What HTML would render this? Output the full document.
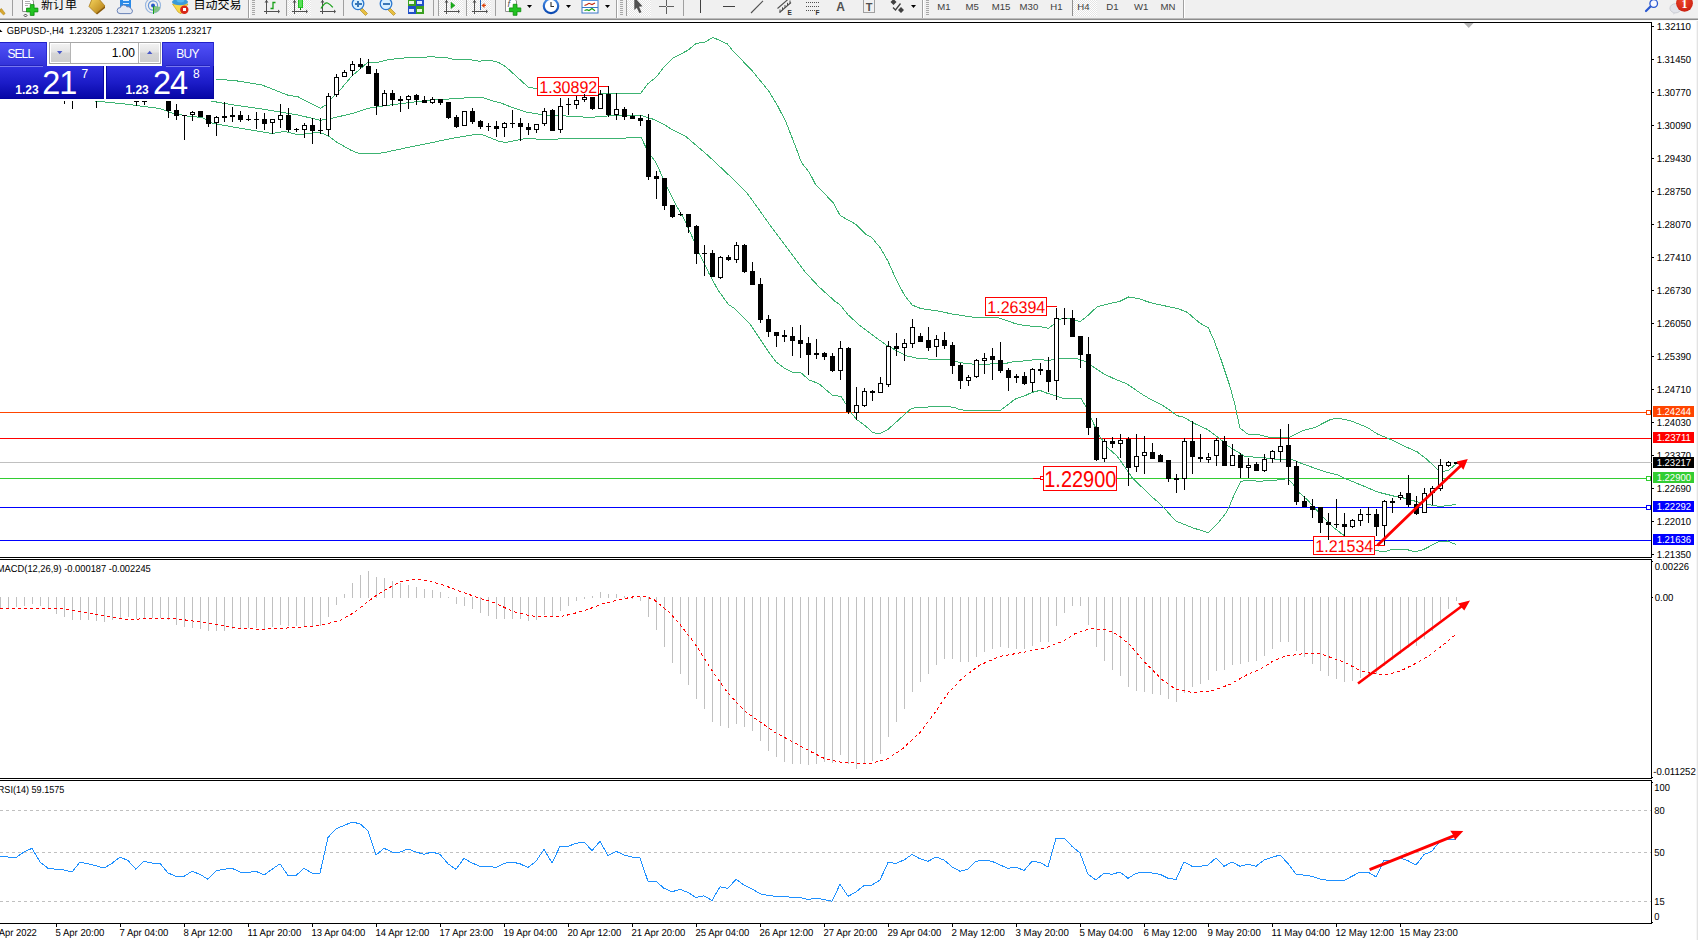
<!DOCTYPE html>
<html><head><meta charset="utf-8"><title>GBPUSD H4</title><style>html,body{margin:0;padding:0;background:#fff;overflow:hidden}svg{display:block}</style></head><body>
<svg width="1698" height="940" viewBox="0 0 1698 940">
<defs>
<linearGradient id="gSell" x1="0" y1="0" x2="0" y2="1"><stop offset="0" stop-color="#5252fa"/><stop offset="1" stop-color="#3232d8"/></linearGradient>
<linearGradient id="gPrice" x1="0" y1="0" x2="0" y2="1"><stop offset="0" stop-color="#3030e0"/><stop offset="0.5" stop-color="#1c1cc8"/><stop offset="1" stop-color="#0606a4"/></linearGradient>
<linearGradient id="gBtn" x1="0" y1="0" x2="0" y2="1"><stop offset="0" stop-color="#f2f2f2"/><stop offset="0.45" stop-color="#e4e4e4"/><stop offset="0.5" stop-color="#d6d6d6"/><stop offset="1" stop-color="#cfcfcf"/></linearGradient>
<radialGradient id="gBadge" cx="0.45" cy="0.35" r="0.7"><stop offset="0" stop-color="#f0482c"/><stop offset="1" stop-color="#c81e10"/></radialGradient>
<linearGradient id="gGold" x1="0" y1="0" x2="1" y2="1"><stop offset="0" stop-color="#f8d860"/><stop offset="1" stop-color="#b07810"/></linearGradient>
<linearGradient id="gClock" x1="0" y1="0" x2="0" y2="1"><stop offset="0" stop-color="#4a90e8"/><stop offset="1" stop-color="#0a48b0"/></linearGradient>
<pattern id="chk" width="2" height="2" patternUnits="userSpaceOnUse"><rect width="2" height="2" fill="#ffffff"/><rect width="1" height="1" fill="#e4e4e4"/><rect x="1" y="1" width="1" height="1" fill="#e4e4e4"/></pattern>
<clipPath id="cMain"><rect x="0" y="23" width="1651" height="534"/></clipPath>
<clipPath id="cMacd"><rect x="0" y="560" width="1651" height="218"/></clipPath>
<clipPath id="cRsi"><rect x="0" y="781" width="1651" height="142"/></clipPath>
<clipPath id="cTb"><rect x="0" y="0" width="1698" height="18"/></clipPath>
</defs>
<rect x="0" y="0" width="1698" height="940" fill="#ffffff"/>
<rect x="0" y="0" width="1698" height="18" fill="#f0f0f0"/>
<rect x="0" y="18" width="1698" height="1" fill="#bcbcbc"/>
<rect x="0" y="19" width="1698" height="1" fill="#8c8c8c"/>
<rect x="0" y="20" width="1698" height="1" fill="#fafafa"/>
<g clip-path="url(#cTb)">
<path d="M0,9.5 L1.5,8.5 L5.2,13.5 L3.5,15 L0,11.5 Z" fill="#d8a830" stroke="#a88018" stroke-width="0.5"/>
<rect x="12" y="0" width="1" height="16" fill="#a0a0a0"/>
<path d="M22.5,-2 h8 l3,3 v10.5 h-11 z" fill="#ffffff" stroke="#909090" stroke-width="1"/>
<rect x="25" y="1" width="5" height="1" fill="#b0b0b0"/>
<rect x="25" y="3" width="6" height="1" fill="#b0b0b0"/>
<rect x="25" y="5" width="3" height="1" fill="#b0b0b0"/>
<path d="M30.3,4.6 h3.8 v3.5 h3.8 v3.8 h-3.8 v3.5 h-3.8 v-3.5 h-3.8 v-3.8 h3.8 z" fill="#22c322" stroke="#0a8a0a" stroke-width="0.8"/>
<path d="M25.5,14 l1.5,1.5 l-1.5,1.5 l-1.5,-1.5 z" fill="none" stroke="#000" stroke-width="0.7"/>
<text x="41" y="9" font-family="'Liberation Sans','Noto Sans CJK SC',sans-serif" font-size="12" fill="#000" text-anchor="start" font-weight="normal">新订单</text>
<path d="M92,-1 L98,-2 L105,6 L96,13.5 L89,6.5 Z" fill="url(#gGold)" stroke="#a87818" stroke-width="0.8"/>
<path d="M96,13.5 L105,6 L105,8 L97,14.5 Z" fill="#8a5a08"/>
<rect x="120" y="-2" width="11" height="10" fill="#2a8ae8"/>
<rect x="123" y="0" width="6" height="1" fill="#d8ecff"/>
<rect x="123" y="3" width="6" height="1" fill="#d8ecff"/>
<path d="M120,13.6 a3,3 0 0 1 0.3,-6 a3.6,3.6 0 0 1 6.6,-0.8 a3,3 0 0 1 3.8,1.8 a2.6,2.6 0 0 1 -0.3,5 z" fill="#e4e9f2" stroke="#5a76b0" stroke-width="0.9"/>
<circle cx="153" cy="5.5" r="7.5" fill="none" stroke="#9ab8e0" stroke-width="1.2"/>
<circle cx="153" cy="5.5" r="4.6" fill="none" stroke="#6a98d8" stroke-width="1.2"/>
<path d="M153,5.5 L160.3,7 A7.5,7.5 0 0 1 153,13 Z" fill="#7ac07a" opacity="0.9"/>
<circle cx="153" cy="5.5" r="2" fill="#2858c8"/>
<rect x="153" y="6" width="1" height="8" fill="#18a018"/>
<path d="M172.5,4 L188,4 L181,13.8 L178,12 Z" fill="#f8d848" stroke="#c8a020" stroke-width="0.7"/>
<ellipse cx="180" cy="2" rx="8" ry="3.2" fill="#3a9ad8"/>
<ellipse cx="180.5" cy="-0.5" rx="4" ry="3" fill="#58b8f0"/>
<circle cx="184.3" cy="9.7" r="4.2" fill="#d82818"/>
<rect x="183" y="8" width="3" height="3" fill="#ffffff"/>
<text x="193.5" y="9" font-family="'Liberation Sans','Noto Sans CJK SC',sans-serif" font-size="12" fill="#000" text-anchor="start" font-weight="normal">自动交易</text>
<rect x="248" y="0" width="1" height="18" fill="#a0a0a0"/>
<rect x="249" y="0" width="1" height="18" fill="#ffffff"/>
<rect x="252" y="0" width="3" height="1" fill="#a8a8a8"/>
<rect x="252" y="2" width="3" height="1" fill="#a8a8a8"/>
<rect x="252" y="4" width="3" height="1" fill="#a8a8a8"/>
<rect x="252" y="6" width="3" height="1" fill="#a8a8a8"/>
<rect x="252" y="8" width="3" height="1" fill="#a8a8a8"/>
<rect x="252" y="10" width="3" height="1" fill="#a8a8a8"/>
<rect x="252" y="12" width="3" height="1" fill="#a8a8a8"/>
<rect x="252" y="14" width="3" height="1" fill="#a8a8a8"/>
<g shape-rendering="crispEdges" fill="#505050">
<rect x="266" y="0" width="1" height="14" fill="#505050"/>
<rect x="264" y="11" width="14" height="1" fill="#505050"/>
</g>
<path d="M278,9.5 l2,2 l-2,2 z" fill="#505050"/>
<path d="M264.5,2.5 l2,-2.5 l2,2.5 z" fill="#505050"/>
<path d="M270.5,8.5 h2.5 v-6 h2.5" fill="none" stroke="#18a018" stroke-width="1.3"/>
<rect x="286" y="0" width="1" height="16" fill="#a0a0a0"/>
<rect x="288" y="0" width="23" height="16" fill="url(#chk)"/>
<g shape-rendering="crispEdges" fill="#505050">
<rect x="294" y="0" width="1" height="14" fill="#505050"/>
<rect x="292" y="11" width="14" height="1" fill="#505050"/>
</g>
<path d="M306,9.5 l2,2 l-2,2 z" fill="#505050"/>
<path d="M292.5,2.5 l2,-2.5 l2,2.5 z" fill="#505050"/>
<rect x="298" y="-1" width="5" height="9" fill="#22c322"/>
<rect x="299" y="0" width="3" height="7" fill="#58e058"/>
<rect x="300" y="8" width="1" height="2" fill="#0a8a0a"/>
<g shape-rendering="crispEdges" fill="#505050">
<rect x="322" y="0" width="1" height="14" fill="#505050"/>
<rect x="320" y="11" width="14" height="1" fill="#505050"/>
</g>
<path d="M334,9.5 l2,2 l-2,2 z" fill="#505050"/>
<path d="M320.5,2.5 l2,-2.5 l2,2.5 z" fill="#505050"/>
<path d="M321,8.5 Q325,2 327.5,3 T332.8,7.3" fill="none" stroke="#18a018" stroke-width="1.3"/>
<rect x="343" y="0" width="1" height="16" fill="#a0a0a0"/>
<path d="M361.5,7.5 l6,6 l-2,2 l-6,-6 z" fill="#e8c040" stroke="#a88018" stroke-width="0.6"/>
<circle cx="358" cy="3.8" r="5.8" fill="#d8f0ff" stroke="#2a78d0" stroke-width="1.3"/>
<rect x="355" y="3" width="7" height="2" fill="#3a78b8"/>
<rect x="357" y="1" width="2" height="6" fill="#3a78b8"/>
<path d="M389.5,7.5 l6,6 l-2,2 l-6,-6 z" fill="#e8c040" stroke="#a88018" stroke-width="0.6"/>
<circle cx="386" cy="3.8" r="5.8" fill="#d8f0ff" stroke="#2a78d0" stroke-width="1.3"/>
<rect x="383" y="3" width="7" height="2" fill="#3a78b8"/>
<rect x="408" y="-1" width="8" height="7" fill="#3aa020"/>
<rect x="416" y="-1" width="8" height="7" fill="#2050c8"/>
<rect x="408" y="6" width="8" height="8" fill="#2050c8"/>
<rect x="416" y="6" width="8" height="8" fill="#3aa020"/>
<rect x="409" y="1" width="5" height="3" fill="#e8f8e0"/>
<rect x="417" y="1" width="5" height="3" fill="#e0e8ff"/>
<rect x="409" y="9" width="5" height="3" fill="#e0e8ff"/>
<rect x="417" y="9" width="5" height="3" fill="#e8f8e0"/>
<rect x="433" y="0" width="1" height="16" fill="#a0a0a0"/>
<rect x="438" y="0" width="1" height="16" fill="#a0a0a0"/>
<rect x="439" y="0" width="24" height="16" fill="url(#chk)"/>
<g shape-rendering="crispEdges" fill="#505050">
<rect x="446" y="0" width="1" height="14" fill="#505050"/>
<rect x="444" y="11" width="14" height="1" fill="#505050"/>
</g>
<path d="M458,9.5 l2,2 l-2,2 z" fill="#505050"/>
<path d="M444.5,2.5 l2,-2.5 l2,2.5 z" fill="#505050"/>
<path d="M451,2.3 l4,3.1 l-4,3.1 z" fill="#18b018" stroke="#0a8a0a" stroke-width="0.5"/>
<rect x="466" y="0" width="1" height="16" fill="#a0a0a0"/>
<rect x="467" y="0" width="24" height="16" fill="url(#chk)"/>
<g shape-rendering="crispEdges" fill="#505050">
<rect x="474" y="0" width="1" height="14" fill="#505050"/>
<rect x="472" y="11" width="14" height="1" fill="#505050"/>
</g>
<path d="M486,9.5 l2,2 l-2,2 z" fill="#505050"/>
<path d="M472.5,2.5 l2,-2.5 l2,2.5 z" fill="#505050"/>
<rect x="480" y="0" width="1" height="10" fill="#2060b0"/>
<path d="M481.5,5.4 l3,-2.5 v1.8 h1.5 v1.4 h-1.5 v1.8 z" fill="#e04810"/>
<rect x="495" y="0" width="1" height="16" fill="#a0a0a0"/>
<path d="M505.5,-2 h8 l3,3 v10.5 h-11 z" fill="#ffffff" stroke="#909090" stroke-width="1"/>
<text x="507.5" y="7" font-family="'Liberation Sans',sans-serif" font-size="9" fill="#505050" text-anchor="start" font-weight="normal" font-style="italic">f</text>
<path d="M513.2,4.3 h3.8 v3.6 h3.8 v3.8 h-3.8 v3.6 h-3.8 v-3.6 h-3.8 v-3.8 h3.8 z" fill="#22c322" stroke="#0a8a0a" stroke-width="0.8"/>
<path d="M527,5 h5 l-2.5,3 z" fill="#000"/>
<circle cx="551" cy="6" r="7.2" fill="#ffffff" stroke="url(#gClock)" stroke-width="2.2"/>
<path d="M551,2 v4.5 h3" fill="none" stroke="#303030" stroke-width="1.1"/>
<path d="M566,5 h5 l-2.5,3 z" fill="#000"/>
<rect x="582" y="-2" width="16" height="15" fill="#ffffff" stroke="#3a78c8" stroke-width="1"/>
<rect x="582" y="-2" width="16" height="3" fill="#5a98e0"/>
<path d="M584.5,5.5 l2.5,-1 l2,-1.2 l3,1.2 l3,-1.5" fill="none" stroke="#c02810" stroke-width="1.2"/>
<rect x="582" y="7" width="16" height="1" fill="#3a78c8"/>
<path d="M584.5,10.5 l2.5,-0.8 l2,0.8 l3,-2 l3,2.2" fill="none" stroke="#18a018" stroke-width="1.2"/>
<path d="M605,5 h5 l-2.5,3 z" fill="#000"/>
<rect x="616" y="0" width="1" height="18" fill="#a0a0a0"/>
<rect x="617" y="0" width="1" height="18" fill="#ffffff"/>
<rect x="620" y="0" width="3" height="1" fill="#a8a8a8"/>
<rect x="620" y="2" width="3" height="1" fill="#a8a8a8"/>
<rect x="620" y="4" width="3" height="1" fill="#a8a8a8"/>
<rect x="620" y="6" width="3" height="1" fill="#a8a8a8"/>
<rect x="620" y="8" width="3" height="1" fill="#a8a8a8"/>
<rect x="620" y="10" width="3" height="1" fill="#a8a8a8"/>
<rect x="620" y="12" width="3" height="1" fill="#a8a8a8"/>
<rect x="620" y="14" width="3" height="1" fill="#a8a8a8"/>
<rect x="626" y="0" width="1" height="16" fill="#a0a0a0"/>
<rect x="627" y="0" width="24" height="16" fill="url(#chk)"/>
<path d="M634.3,-3 L642.5,6.3 L639,6.8 L641.5,12.3 L639.3,13 L636.8,7.8 L634.3,10 Z" fill="#505050"/>
<rect x="659" y="6" width="15" height="1" fill="#606060"/>
<rect x="666" y="0" width="1" height="14" fill="#606060"/>
<rect x="666" y="6" width="1" height="1" fill="#f0f0f0"/>
<rect x="683" y="0" width="1" height="16" fill="#a0a0a0"/>
<rect x="700" y="0" width="1" height="13" fill="#404040"/>
<rect x="723" y="6" width="12" height="1" fill="#404040"/>
<path d="M751,13 L763,0.8" stroke="#505050" stroke-width="1.1" fill="none"/>
<path d="M777.5,8.5 L789,-1.5 M779.5,12.5 L791,2.5" stroke="#505050" stroke-width="1.1" fill="none"/>
<path d="M780,9.5 v3 M782.5,7.3 v3 M785,5 v3 M787.5,2.8 v3 M790,0.5 v3" stroke="#505050" stroke-width="1" fill="none"/>
<text x="787.5" y="14.5" font-family="'Liberation Sans',sans-serif" font-size="6.5" fill="#303030" text-anchor="start" font-weight="bold">E</text>
<rect x="806" y="2" width="1" height="1" fill="#505050"/>
<rect x="808" y="2" width="1" height="1" fill="#505050"/>
<rect x="810" y="2" width="1" height="1" fill="#505050"/>
<rect x="812" y="2" width="1" height="1" fill="#505050"/>
<rect x="814" y="2" width="1" height="1" fill="#505050"/>
<rect x="816" y="2" width="1" height="1" fill="#505050"/>
<rect x="818" y="2" width="1" height="1" fill="#505050"/>
<rect x="806" y="6" width="1" height="1" fill="#505050"/>
<rect x="808" y="6" width="1" height="1" fill="#505050"/>
<rect x="810" y="6" width="1" height="1" fill="#505050"/>
<rect x="812" y="6" width="1" height="1" fill="#505050"/>
<rect x="814" y="6" width="1" height="1" fill="#505050"/>
<rect x="816" y="6" width="1" height="1" fill="#505050"/>
<rect x="818" y="6" width="1" height="1" fill="#505050"/>
<rect x="806" y="10" width="1" height="1" fill="#505050"/>
<rect x="808" y="10" width="1" height="1" fill="#505050"/>
<rect x="810" y="10" width="1" height="1" fill="#505050"/>
<rect x="812" y="10" width="1" height="1" fill="#505050"/>
<rect x="814" y="10" width="1" height="1" fill="#505050"/>
<text x="815.5" y="14.5" font-family="'Liberation Sans',sans-serif" font-size="6.5" fill="#303030" text-anchor="start" font-weight="bold">F</text>
<text x="836.3" y="10.7" font-family="'Liberation Sans',sans-serif" font-size="12" fill="#505050" text-anchor="start" font-weight="bold">A</text>
<rect x="863.5" y="-0.5" width="11" height="13" fill="none" stroke="#505050" stroke-width="1" stroke-dasharray="1,1"/>
<text x="869" y="10.7" font-family="'Liberation Sans',sans-serif" font-size="11" fill="#505050" text-anchor="middle" font-weight="bold">T</text>
<path d="M893.5,-1 l3,3 l-3,3 l-3,-3 z M901,7 l3,3 l-3,3 l-3,-3 z" fill="#404040"/>
<path d="M893,7.5 l2.5,2.5 l5,-6.5" fill="none" stroke="#404040" stroke-width="1.3"/>
<path d="M911,5 h5 l-2.5,3 z" fill="#000"/>
<rect x="922" y="0" width="1" height="18" fill="#a0a0a0"/>
<rect x="923" y="0" width="1" height="18" fill="#ffffff"/>
<rect x="926" y="0" width="3" height="1" fill="#a8a8a8"/>
<rect x="926" y="2" width="3" height="1" fill="#a8a8a8"/>
<rect x="926" y="4" width="3" height="1" fill="#a8a8a8"/>
<rect x="926" y="6" width="3" height="1" fill="#a8a8a8"/>
<rect x="926" y="8" width="3" height="1" fill="#a8a8a8"/>
<rect x="926" y="10" width="3" height="1" fill="#a8a8a8"/>
<rect x="926" y="12" width="3" height="1" fill="#a8a8a8"/>
<rect x="926" y="14" width="3" height="1" fill="#a8a8a8"/>
<text x="937.3" y="9.8" font-family="'Liberation Sans',sans-serif" font-size="9.6" fill="#404040" text-anchor="start" font-weight="normal">M1</text>
<text x="965.6" y="9.8" font-family="'Liberation Sans',sans-serif" font-size="9.6" fill="#404040" text-anchor="start" font-weight="normal">M5</text>
<text x="991.7" y="9.8" font-family="'Liberation Sans',sans-serif" font-size="9.6" fill="#404040" text-anchor="start" font-weight="normal">M15</text>
<text x="1019.6" y="9.8" font-family="'Liberation Sans',sans-serif" font-size="9.6" fill="#404040" text-anchor="start" font-weight="normal">M30</text>
<text x="1050.3" y="9.8" font-family="'Liberation Sans',sans-serif" font-size="9.6" fill="#404040" text-anchor="start" font-weight="normal">H1</text>
<text x="1106.3" y="9.8" font-family="'Liberation Sans',sans-serif" font-size="9.6" fill="#404040" text-anchor="start" font-weight="normal">D1</text>
<text x="1134" y="9.8" font-family="'Liberation Sans',sans-serif" font-size="9.6" fill="#404040" text-anchor="start" font-weight="normal">W1</text>
<text x="1160.5" y="9.8" font-family="'Liberation Sans',sans-serif" font-size="9.6" fill="#404040" text-anchor="start" font-weight="normal">MN</text>
<rect x="1072" y="0" width="1" height="16" fill="#909090"/>
<rect x="1073" y="0" width="24" height="16" fill="url(#chk)"/>
<text x="1077.3" y="9.8" font-family="'Liberation Sans',sans-serif" font-size="9.6" fill="#404040" text-anchor="start" font-weight="normal">H4</text>
<rect x="1183" y="0" width="1" height="18" fill="#a0a0a0"/>
<rect x="1184" y="0" width="1" height="18" fill="#ffffff"/>
<path d="M1650.5,6.5 L1646,11" stroke="#2a58d0" stroke-width="2.2" stroke-linecap="round"/>
<circle cx="1653.7" cy="3.5" r="3.8" fill="#f8f8ff" stroke="#2a58d0" stroke-width="1.3"/>
<ellipse cx="1675.5" cy="8.3" rx="5.6" ry="4.6" fill="#e2e4ea" stroke="#b8bcc4" stroke-width="0.6"/>
<path d="M1673,12 l0.5,2.7 l2.5,-2.4 z" fill="#d4d6dc"/>
<circle cx="1684.5" cy="3.3" r="8.4" fill="url(#gBadge)"/>
<text x="1684.4" y="7.8" font-family="'Liberation Serif',serif" font-size="12" fill="#ffffff" text-anchor="middle" font-weight="bold">1</text>
</g>
<g shape-rendering="crispEdges">
<rect x="0" y="22" width="1652" height="1" fill="#000"/>
<rect x="1651" y="22" width="1" height="902" fill="#000"/>
<rect x="0" y="557" width="1652" height="1" fill="#000"/>
<rect x="1651" y="558" width="1" height="1" fill="#fff"/>
<rect x="0" y="559" width="1652" height="1" fill="#000"/>
<rect x="0" y="778" width="1652" height="1" fill="#000"/>
<rect x="1651" y="779" width="1" height="1" fill="#fff"/>
<rect x="0" y="780" width="1652" height="1" fill="#000"/>
<rect x="0" y="923" width="1652" height="1" fill="#000"/>
<rect x="1697" y="21" width="1" height="919" fill="#e3e3e3"/>
<rect x="1696" y="21" width="1" height="919" fill="#f6f6f6"/>
</g>
<g clip-path="url(#cMain)">
<g shape-rendering="crispEdges">
<rect x="0" y="412" width="1651" height="1" fill="#ff4500"/>
<rect x="0" y="438" width="1651" height="1" fill="#ff0000"/>
<rect x="0" y="462" width="1651" height="1" fill="#c0c0c0"/>
<rect x="0" y="478" width="1651" height="1" fill="#32cd32"/>
<rect x="0" y="507" width="1651" height="1" fill="#0000ff"/>
<rect x="0" y="540" width="1651" height="1" fill="#0000ff"/>
<rect x="1646" y="410" width="5" height="5" fill="#ff4500"/>
<rect x="1647" y="411" width="3" height="3" fill="#ffffff"/>
<rect x="1646" y="476" width="5" height="5" fill="#32cd32"/>
<rect x="1647" y="477" width="3" height="3" fill="#ffffff"/>
<rect x="1646" y="505" width="5" height="5" fill="#0000ff"/>
<rect x="1647" y="506" width="3" height="3" fill="#ffffff"/>
<polyline points="150.0,70.0 214.0,79.0 235.0,80.6 262.0,85.0 288.0,95.2 298.0,96.8 320.5,108.3 326.0,104.8 330.0,100.0 340.6,89.4 351.3,76.6 367.2,62.8 377.9,62.2 388.5,59.6 404.5,58.0 429.0,56.9 444.9,57.2 453.4,59.4 468.3,59.4 478.9,61.2 489.6,60.1 498.0,62.2 505.3,66.4 516.0,76.0 528.2,87.1 537.2,88.7 560.0,91.0 580.0,93.0 603.7,93.8 640.4,93.5 647.4,84.2 657.0,76.3 663.4,67.7 673.0,58.2 687.9,50.2 696.4,43.3 704.9,42.2 712.9,37.4 727.2,43.8 733.6,51.8 741.0,59.2 752.8,71.5 768.7,91.1 777.2,105.0 785.7,121.5 795.0,145.1 801.3,162.1 809.8,173.3 815.3,184.0 833.5,203.1 840.2,215.6 855.6,224.2 865.1,233.8 871.8,237.6 880.5,248.1 888.1,261.5 895.8,278.8 904.4,295.1 912.1,305.0 920.7,308.5 937.9,311.0 953.3,314.2 972.4,317.1 997.0,317.5 1001.0,318.6 1015.0,323.5 1020.0,324.7 1030.0,326.0 1045.0,327.3 1048.3,328.6 1053.6,324.3 1058.0,319.5 1065.0,318.2 1072.0,319.0 1080.2,321.7 1087.7,315.7 1097.0,306.9 1108.9,303.8 1120.0,301.3 1128.5,297.0 1137.8,298.4 1151.5,303.0 1165.0,305.9 1178.7,308.9 1187.2,312.3 1199.1,322.5 1208.4,328.0 1214.4,341.2 1221.2,360.0 1229.7,385.5 1234.8,404.2 1239.9,428.0 1247.6,434.0 1259.8,434.9 1269.8,437.4 1277.2,437.4 1290.0,437.1 1303.8,430.2 1314.5,427.6 1330.4,419.6 1337.9,418.0 1351.7,421.2 1367.7,427.6 1377.2,433.9 1389.0,438.7 1402.8,445.5 1417.2,451.9 1425.7,458.3 1432.6,464.7 1438.0,469.8 1442.8,471.5 1448.7,470.2 1455.5,464.3 1457.0,463.0" fill="none" stroke="#3cb371" stroke-width="1"/>
<polyline points="150.0,90.0 190.0,96.5 213.0,101.4 236.0,105.3 266.0,109.6 298.0,115.0 320.0,120.2 325.0,119.7 330.0,118.6 351.3,113.8 367.2,108.5 383.2,105.9 404.5,103.2 425.7,100.5 436.4,99.5 452.3,98.9 468.3,97.7 482.0,97.3 494.9,101.6 500.0,102.6 510.6,106.8 526.6,112.1 542.6,114.8 563.8,115.9 590.4,117.4 608.5,115.9 622.3,115.9 640.4,115.3 654.5,119.6 665.0,124.9 670.4,128.6 685.3,136.0 699.0,147.8 707.7,155.2 723.6,170.1 736.4,182.3 747.0,193.0 756.4,206.0 772.3,228.3 788.3,249.6 804.3,271.0 819.1,287.0 835.1,301.4 840.4,305.1 847.9,314.7 859.6,325.3 872.3,334.9 886.2,345.0 896.4,350.6 907.0,356.0 917.7,358.3 933.6,359.4 949.4,359.8 960.0,362.6 971.7,364.0 984.5,364.7 995.0,363.3 1003.6,363.8 1016.4,361.2 1027.0,360.9 1037.7,359.0 1047.4,360.6 1059.1,358.5 1076.2,358.3 1085.7,361.7 1091.0,365.4 1103.8,373.9 1114.5,378.9 1127.2,384.0 1141.0,393.6 1151.7,400.0 1162.3,405.3 1171.9,411.7 1177.2,415.7 1183.6,417.2 1194.3,423.4 1207.7,429.6 1218.3,437.6 1229.0,446.6 1239.6,453.0 1245.0,456.7 1261.3,457.3 1277.2,459.5 1293.2,460.0 1303.8,464.3 1325.0,471.7 1337.9,474.9 1346.4,479.1 1362.3,485.5 1377.2,491.9 1394.3,496.2 1407.0,498.7 1415.5,501.3 1427.4,504.3 1437.7,506.2 1444.5,506.0 1451.3,505.1 1456.0,504.3" fill="none" stroke="#3cb371" stroke-width="1"/>
<polyline points="60.0,97.0 95.0,101.0 110.0,102.5 125.0,104.0 140.0,106.0 160.0,108.5 172.0,113.0 187.0,116.0 202.0,117.5 213.0,123.4 240.0,128.2 272.0,133.5 285.0,131.4 298.0,134.9 312.0,133.0 320.0,132.5 328.5,135.9 337.0,142.3 351.8,150.7 359.2,153.4 379.4,153.4 387.8,151.8 404.8,148.1 426.0,143.9 447.2,139.3 463.1,136.4 476.9,134.3 481.1,134.1 489.6,137.5 498.0,141.0 505.5,142.6 524.5,138.7 547.9,139.3 574.5,138.5 595.7,138.9 617.0,138.5 636.4,137.4 641.0,137.1 646.3,148.3 651.3,156.3 655.5,161.6 662.0,176.0 667.4,188.0 676.6,206.0 685.1,220.9 693.6,240.0 698.9,252.7 709.4,274.2 718.3,290.6 728.7,304.8 734.7,308.5 749.5,323.4 755.5,332.3 767.4,350.2 776.3,362.1 785.3,368.8 792.7,372.2 800.6,372.4 809.0,379.9 818.7,383.6 832.6,395.3 841.0,396.4 846.4,404.9 851.7,413.4 857.0,419.8 864.5,425.1 873.0,432.6 879.4,433.8 887.9,429.4 896.4,421.9 907.0,412.3 911.3,408.6 917.7,407.2 938.9,406.8 945.3,406.2 954.5,407.5 959.7,409.5 965.5,410.3 1000.5,410.3 1007.0,405.3 1014.8,399.4 1018.7,397.5 1023.2,396.5 1032.3,392.3 1040.0,390.4 1047.2,393.3 1053.6,395.2 1063.4,398.4 1081.0,398.4 1085.7,406.4 1091.0,418.1 1095.3,427.1 1099.6,436.2 1107.7,447.7 1117.2,456.2 1124.7,466.8 1132.0,477.4 1139.6,484.9 1150.0,495.2 1156.5,500.7 1163.6,507.5 1175.9,521.1 1192.1,527.6 1208.3,532.7 1218.0,523.0 1225.8,513.3 1229.7,505.5 1234.3,494.5 1240.6,481.7 1246.0,480.1 1259.0,481.3 1275.0,480.2 1287.9,478.6 1293.2,484.5 1299.6,493.0 1308.0,500.4 1314.5,507.9 1325.0,518.9 1334.7,528.5 1343.2,534.9 1355.0,542.0 1365.0,547.0 1375.0,550.3 1383.6,551.9 1391.0,549.8 1407.0,549.6 1415.5,551.9 1424.0,549.3 1439.0,541.5 1447.4,541.0 1456.0,544.5" fill="none" stroke="#3cb371" stroke-width="1"/>
</g>
<rect x="537.5" y="77.5" width="61" height="18" fill="#ffffff" stroke="#ff0000" stroke-width="1" shape-rendering="crispEdges"/>
<text x="539.3" y="92.7" font-family="'Liberation Sans',sans-serif" font-size="17" fill="#ff0000" text-anchor="start" font-weight="normal" textLength="58" lengthAdjust="spacingAndGlyphs" text-rendering="geometricPrecision">1.30892</text>
<rect x="599" y="86" width="10" height="1" fill="#ff0000" shape-rendering="crispEdges"/>
<rect x="985.5" y="297.5" width="61" height="18" fill="#ffffff" stroke="#ff0000" stroke-width="1" shape-rendering="crispEdges"/>
<text x="987.3" y="312.9" font-family="'Liberation Sans',sans-serif" font-size="17" fill="#ff0000" text-anchor="start" font-weight="normal" textLength="58" lengthAdjust="spacingAndGlyphs" text-rendering="geometricPrecision">1.26394</text>
<rect x="1047" y="306" width="10" height="1" fill="#ff0000" shape-rendering="crispEdges"/>
<rect x="1313.5" y="536.5" width="61" height="18" fill="#ffffff" stroke="#ff0000" stroke-width="1" shape-rendering="crispEdges"/>
<text x="1315.3" y="551.8" font-family="'Liberation Sans',sans-serif" font-size="17" fill="#ff0000" text-anchor="start" font-weight="normal" textLength="58" lengthAdjust="spacingAndGlyphs" text-rendering="geometricPrecision">1.21534</text>
<rect x="1375" y="545" width="10" height="1" fill="#ff0000" shape-rendering="crispEdges"/>
<rect x="1033" y="478" width="10" height="1" fill="#ff0000" shape-rendering="crispEdges"/>
<rect x="1040" y="476" width="4" height="4" fill="#ff0000" shape-rendering="crispEdges"/>
<rect x="1041" y="477" width="2" height="2" fill="#ffffff" shape-rendering="crispEdges"/>
<rect x="1043.5" y="466.5" width="73" height="24" fill="#ffffff" stroke="#ff0000" stroke-width="1" shape-rendering="crispEdges"/>
<text x="1044.3" y="486.9" font-family="'Liberation Sans',sans-serif" font-size="22.8" fill="#ff0000" text-anchor="start" font-weight="normal" textLength="72" lengthAdjust="spacingAndGlyphs" text-rendering="geometricPrecision">1.22900</text>
<g shape-rendering="crispEdges">
<rect x="64" y="90" width="1" height="14" fill="#000"/>
<rect x="72" y="90" width="1" height="19" fill="#000"/>
<rect x="96" y="90" width="1" height="18" fill="#000"/>
<rect x="136" y="90" width="1" height="16" fill="#000"/>
<rect x="134" y="90" width="5" height="12" fill="#000"/>
<rect x="135" y="91" width="3" height="10" fill="#fff"/>
<rect x="144" y="90" width="1" height="15" fill="#000"/>
<rect x="142" y="90" width="5" height="12" fill="#000"/>
<rect x="143" y="91" width="3" height="10" fill="#fff"/>
<rect x="168" y="90" width="1" height="28" fill="#000"/>
<rect x="166" y="90" width="5" height="21" fill="#000"/>
<rect x="176" y="104" width="1" height="16" fill="#000"/>
<rect x="174" y="110" width="5" height="6" fill="#000"/>
<rect x="184" y="115" width="1" height="25" fill="#000"/>
<rect x="182" y="115" width="5" height="1" fill="#000"/>
<rect x="192" y="111" width="1" height="10" fill="#000"/>
<rect x="190" y="112" width="5" height="3" fill="#000"/>
<rect x="191" y="113" width="3" height="1" fill="#fff"/>
<rect x="200" y="111" width="1" height="6" fill="#000"/>
<rect x="198" y="111" width="5" height="6" fill="#000"/>
<rect x="208" y="115" width="1" height="12" fill="#000"/>
<rect x="206" y="115" width="5" height="9" fill="#000"/>
<rect x="216" y="116" width="1" height="20" fill="#000"/>
<rect x="214" y="117" width="5" height="6" fill="#000"/>
<rect x="215" y="118" width="3" height="4" fill="#fff"/>
<rect x="224" y="102" width="1" height="20" fill="#000"/>
<rect x="222" y="116" width="5" height="2" fill="#000"/>
<rect x="232" y="107" width="1" height="15" fill="#000"/>
<rect x="230" y="115" width="5" height="2" fill="#000"/>
<rect x="240" y="111" width="1" height="11" fill="#000"/>
<rect x="238" y="115" width="5" height="5" fill="#000"/>
<rect x="248" y="115" width="1" height="6" fill="#000"/>
<rect x="246" y="119" width="5" height="1" fill="#000"/>
<rect x="256" y="112" width="1" height="17" fill="#000"/>
<rect x="254" y="119" width="5" height="1" fill="#000"/>
<rect x="264" y="113" width="1" height="17" fill="#000"/>
<rect x="262" y="119" width="5" height="5" fill="#000"/>
<rect x="272" y="119" width="1" height="15" fill="#000"/>
<rect x="270" y="119" width="5" height="4" fill="#000"/>
<rect x="271" y="120" width="3" height="2" fill="#fff"/>
<rect x="280" y="104" width="1" height="24" fill="#000"/>
<rect x="278" y="115" width="5" height="5" fill="#000"/>
<rect x="279" y="116" width="3" height="3" fill="#fff"/>
<rect x="288" y="108" width="1" height="24" fill="#000"/>
<rect x="286" y="115" width="5" height="15" fill="#000"/>
<rect x="296" y="128" width="1" height="4" fill="#000"/>
<rect x="294" y="129" width="5" height="1" fill="#000"/>
<rect x="304" y="123" width="1" height="15" fill="#000"/>
<rect x="302" y="125" width="5" height="5" fill="#000"/>
<rect x="303" y="126" width="3" height="3" fill="#fff"/>
<rect x="312" y="118" width="1" height="26" fill="#000"/>
<rect x="310" y="125" width="5" height="6" fill="#000"/>
<rect x="320" y="118" width="1" height="16" fill="#000"/>
<rect x="318" y="130" width="5" height="1" fill="#000"/>
<rect x="328" y="93" width="1" height="43" fill="#000"/>
<rect x="326" y="96" width="5" height="34" fill="#000"/>
<rect x="327" y="97" width="3" height="32" fill="#fff"/>
<rect x="336" y="74" width="1" height="23" fill="#000"/>
<rect x="334" y="77" width="5" height="18" fill="#000"/>
<rect x="335" y="78" width="3" height="16" fill="#fff"/>
<rect x="344" y="70" width="1" height="7" fill="#000"/>
<rect x="342" y="72" width="5" height="5" fill="#000"/>
<rect x="343" y="73" width="3" height="3" fill="#fff"/>
<rect x="352" y="61" width="1" height="15" fill="#000"/>
<rect x="350" y="64" width="5" height="7" fill="#000"/>
<rect x="351" y="65" width="3" height="5" fill="#fff"/>
<rect x="360" y="58" width="1" height="11" fill="#000"/>
<rect x="358" y="64" width="5" height="3" fill="#000"/>
<rect x="368" y="59" width="1" height="15" fill="#000"/>
<rect x="366" y="66" width="5" height="8" fill="#000"/>
<rect x="376" y="69" width="1" height="46" fill="#000"/>
<rect x="374" y="73" width="5" height="33" fill="#000"/>
<rect x="384" y="90" width="1" height="16" fill="#000"/>
<rect x="382" y="93" width="5" height="13" fill="#000"/>
<rect x="383" y="94" width="3" height="11" fill="#fff"/>
<rect x="392" y="90" width="1" height="16" fill="#000"/>
<rect x="390" y="93" width="5" height="7" fill="#000"/>
<rect x="400" y="96" width="1" height="16" fill="#000"/>
<rect x="398" y="99" width="5" height="2" fill="#000"/>
<rect x="408" y="95" width="1" height="14" fill="#000"/>
<rect x="406" y="96" width="5" height="4" fill="#000"/>
<rect x="407" y="97" width="3" height="2" fill="#fff"/>
<rect x="416" y="94" width="1" height="11" fill="#000"/>
<rect x="414" y="95" width="5" height="5" fill="#000"/>
<rect x="424" y="96" width="1" height="7" fill="#000"/>
<rect x="422" y="100" width="5" height="3" fill="#000"/>
<rect x="432" y="97" width="1" height="7" fill="#000"/>
<rect x="430" y="99" width="5" height="4" fill="#000"/>
<rect x="431" y="100" width="3" height="2" fill="#fff"/>
<rect x="440" y="99" width="1" height="6" fill="#000"/>
<rect x="438" y="99" width="5" height="4" fill="#000"/>
<rect x="448" y="102" width="1" height="17" fill="#000"/>
<rect x="446" y="102" width="5" height="16" fill="#000"/>
<rect x="456" y="115" width="1" height="13" fill="#000"/>
<rect x="454" y="117" width="5" height="10" fill="#000"/>
<rect x="464" y="111" width="1" height="15" fill="#000"/>
<rect x="462" y="111" width="5" height="15" fill="#000"/>
<rect x="463" y="112" width="3" height="13" fill="#fff"/>
<rect x="472" y="108" width="1" height="16" fill="#000"/>
<rect x="470" y="111" width="5" height="11" fill="#000"/>
<rect x="480" y="120" width="1" height="9" fill="#000"/>
<rect x="478" y="121" width="5" height="6" fill="#000"/>
<rect x="488" y="123" width="1" height="8" fill="#000"/>
<rect x="486" y="126" width="5" height="1" fill="#000"/>
<rect x="496" y="121" width="1" height="16" fill="#000"/>
<rect x="494" y="126" width="5" height="3" fill="#000"/>
<rect x="504" y="122" width="1" height="15" fill="#000"/>
<rect x="502" y="123" width="5" height="5" fill="#000"/>
<rect x="503" y="124" width="3" height="3" fill="#fff"/>
<rect x="512" y="110" width="1" height="18" fill="#000"/>
<rect x="510" y="123" width="5" height="1" fill="#000"/>
<rect x="520" y="118" width="1" height="23" fill="#000"/>
<rect x="518" y="123" width="5" height="4" fill="#000"/>
<rect x="528" y="123" width="1" height="12" fill="#000"/>
<rect x="526" y="127" width="5" height="3" fill="#000"/>
<rect x="536" y="124" width="1" height="9" fill="#000"/>
<rect x="534" y="124" width="5" height="6" fill="#000"/>
<rect x="535" y="125" width="3" height="4" fill="#fff"/>
<rect x="544" y="108" width="1" height="18" fill="#000"/>
<rect x="542" y="111" width="5" height="13" fill="#000"/>
<rect x="543" y="112" width="3" height="11" fill="#fff"/>
<rect x="552" y="109" width="1" height="22" fill="#000"/>
<rect x="550" y="110" width="5" height="21" fill="#000"/>
<rect x="560" y="98" width="1" height="35" fill="#000"/>
<rect x="558" y="106" width="5" height="24" fill="#000"/>
<rect x="559" y="107" width="3" height="22" fill="#fff"/>
<rect x="568" y="98" width="1" height="17" fill="#000"/>
<rect x="566" y="104" width="5" height="1" fill="#000"/>
<rect x="576" y="96" width="1" height="13" fill="#000"/>
<rect x="574" y="100" width="5" height="5" fill="#000"/>
<rect x="575" y="101" width="3" height="3" fill="#fff"/>
<rect x="584" y="94" width="1" height="8" fill="#000"/>
<rect x="582" y="97" width="5" height="3" fill="#000"/>
<rect x="583" y="98" width="3" height="1" fill="#fff"/>
<rect x="592" y="97" width="1" height="13" fill="#000"/>
<rect x="590" y="97" width="5" height="12" fill="#000"/>
<rect x="600" y="90" width="1" height="19" fill="#000"/>
<rect x="598" y="94" width="5" height="15" fill="#000"/>
<rect x="599" y="95" width="3" height="13" fill="#fff"/>
<rect x="608" y="86" width="1" height="31" fill="#000"/>
<rect x="606" y="94" width="5" height="21" fill="#000"/>
<rect x="616" y="93" width="1" height="27" fill="#000"/>
<rect x="614" y="109" width="5" height="6" fill="#000"/>
<rect x="615" y="110" width="3" height="4" fill="#fff"/>
<rect x="624" y="107" width="1" height="13" fill="#000"/>
<rect x="622" y="109" width="5" height="8" fill="#000"/>
<rect x="632" y="113" width="1" height="6" fill="#000"/>
<rect x="630" y="116" width="5" height="3" fill="#000"/>
<rect x="640" y="115" width="1" height="11" fill="#000"/>
<rect x="638" y="118" width="5" height="3" fill="#000"/>
<rect x="648" y="114" width="1" height="66" fill="#000"/>
<rect x="646" y="120" width="5" height="57" fill="#000"/>
<rect x="656" y="171" width="1" height="28" fill="#000"/>
<rect x="654" y="176" width="5" height="3" fill="#000"/>
<rect x="664" y="178" width="1" height="32" fill="#000"/>
<rect x="662" y="178" width="5" height="28" fill="#000"/>
<rect x="672" y="205" width="1" height="13" fill="#000"/>
<rect x="670" y="205" width="5" height="12" fill="#000"/>
<rect x="680" y="212" width="1" height="4" fill="#000"/>
<rect x="678" y="214" width="5" height="1" fill="#000"/>
<rect x="688" y="214" width="1" height="19" fill="#000"/>
<rect x="686" y="214" width="5" height="13" fill="#000"/>
<rect x="696" y="225" width="1" height="39" fill="#000"/>
<rect x="694" y="226" width="5" height="28" fill="#000"/>
<rect x="704" y="245" width="1" height="31" fill="#000"/>
<rect x="702" y="253" width="5" height="1" fill="#000"/>
<rect x="712" y="250" width="1" height="27" fill="#000"/>
<rect x="710" y="253" width="5" height="24" fill="#000"/>
<rect x="720" y="256" width="1" height="23" fill="#000"/>
<rect x="718" y="257" width="5" height="21" fill="#000"/>
<rect x="719" y="258" width="3" height="19" fill="#fff"/>
<rect x="728" y="255" width="1" height="6" fill="#000"/>
<rect x="726" y="257" width="5" height="3" fill="#000"/>
<rect x="736" y="242" width="1" height="21" fill="#000"/>
<rect x="734" y="245" width="5" height="15" fill="#000"/>
<rect x="735" y="246" width="3" height="13" fill="#fff"/>
<rect x="744" y="244" width="1" height="29" fill="#000"/>
<rect x="742" y="245" width="5" height="27" fill="#000"/>
<rect x="752" y="262" width="1" height="23" fill="#000"/>
<rect x="750" y="271" width="5" height="14" fill="#000"/>
<rect x="760" y="278" width="1" height="45" fill="#000"/>
<rect x="758" y="284" width="5" height="36" fill="#000"/>
<rect x="768" y="315" width="1" height="22" fill="#000"/>
<rect x="766" y="319" width="5" height="13" fill="#000"/>
<rect x="776" y="332" width="1" height="15" fill="#000"/>
<rect x="774" y="332" width="5" height="4" fill="#000"/>
<rect x="784" y="330" width="1" height="12" fill="#000"/>
<rect x="782" y="335" width="5" height="2" fill="#000"/>
<rect x="792" y="327" width="1" height="29" fill="#000"/>
<rect x="790" y="336" width="5" height="5" fill="#000"/>
<rect x="800" y="325" width="1" height="33" fill="#000"/>
<rect x="798" y="340" width="5" height="4" fill="#000"/>
<rect x="808" y="337" width="1" height="38" fill="#000"/>
<rect x="806" y="343" width="5" height="12" fill="#000"/>
<rect x="816" y="339" width="1" height="20" fill="#000"/>
<rect x="814" y="353" width="5" height="2" fill="#000"/>
<rect x="824" y="352" width="1" height="8" fill="#000"/>
<rect x="822" y="353" width="5" height="4" fill="#000"/>
<rect x="832" y="353" width="1" height="19" fill="#000"/>
<rect x="830" y="356" width="5" height="15" fill="#000"/>
<rect x="840" y="341" width="1" height="39" fill="#000"/>
<rect x="838" y="348" width="5" height="23" fill="#000"/>
<rect x="839" y="349" width="3" height="21" fill="#fff"/>
<rect x="848" y="347" width="1" height="67" fill="#000"/>
<rect x="846" y="348" width="5" height="64" fill="#000"/>
<rect x="856" y="387" width="1" height="33" fill="#000"/>
<rect x="854" y="405" width="5" height="8" fill="#000"/>
<rect x="855" y="406" width="3" height="6" fill="#fff"/>
<rect x="864" y="388" width="1" height="19" fill="#000"/>
<rect x="862" y="391" width="5" height="15" fill="#000"/>
<rect x="863" y="392" width="3" height="13" fill="#fff"/>
<rect x="872" y="390" width="1" height="11" fill="#000"/>
<rect x="870" y="391" width="5" height="2" fill="#000"/>
<rect x="880" y="377" width="1" height="16" fill="#000"/>
<rect x="878" y="383" width="5" height="10" fill="#000"/>
<rect x="879" y="384" width="3" height="8" fill="#fff"/>
<rect x="888" y="341" width="1" height="46" fill="#000"/>
<rect x="886" y="346" width="5" height="39" fill="#000"/>
<rect x="887" y="347" width="3" height="37" fill="#fff"/>
<rect x="896" y="333" width="1" height="23" fill="#000"/>
<rect x="894" y="346" width="5" height="3" fill="#000"/>
<rect x="904" y="339" width="1" height="22" fill="#000"/>
<rect x="902" y="343" width="5" height="5" fill="#000"/>
<rect x="903" y="344" width="3" height="3" fill="#fff"/>
<rect x="912" y="319" width="1" height="29" fill="#000"/>
<rect x="910" y="327" width="5" height="17" fill="#000"/>
<rect x="911" y="328" width="3" height="15" fill="#fff"/>
<rect x="920" y="333" width="1" height="9" fill="#000"/>
<rect x="918" y="336" width="5" height="6" fill="#000"/>
<rect x="928" y="327" width="1" height="24" fill="#000"/>
<rect x="926" y="340" width="5" height="8" fill="#000"/>
<rect x="936" y="335" width="1" height="22" fill="#000"/>
<rect x="934" y="339" width="5" height="8" fill="#000"/>
<rect x="935" y="340" width="3" height="6" fill="#fff"/>
<rect x="944" y="332" width="1" height="17" fill="#000"/>
<rect x="942" y="340" width="5" height="6" fill="#000"/>
<rect x="952" y="342" width="1" height="32" fill="#000"/>
<rect x="950" y="345" width="5" height="21" fill="#000"/>
<rect x="960" y="363" width="1" height="26" fill="#000"/>
<rect x="958" y="365" width="5" height="16" fill="#000"/>
<rect x="968" y="375" width="1" height="11" fill="#000"/>
<rect x="966" y="377" width="5" height="4" fill="#000"/>
<rect x="967" y="378" width="3" height="2" fill="#fff"/>
<rect x="976" y="359" width="1" height="19" fill="#000"/>
<rect x="974" y="360" width="5" height="17" fill="#000"/>
<rect x="975" y="361" width="3" height="15" fill="#fff"/>
<rect x="984" y="353" width="1" height="21" fill="#000"/>
<rect x="982" y="358" width="5" height="3" fill="#000"/>
<rect x="983" y="359" width="3" height="1" fill="#fff"/>
<rect x="992" y="348" width="1" height="32" fill="#000"/>
<rect x="990" y="356" width="5" height="4" fill="#000"/>
<rect x="1000" y="342" width="1" height="31" fill="#000"/>
<rect x="998" y="360" width="5" height="11" fill="#000"/>
<rect x="1008" y="368" width="1" height="23" fill="#000"/>
<rect x="1006" y="370" width="5" height="8" fill="#000"/>
<rect x="1016" y="374" width="1" height="9" fill="#000"/>
<rect x="1014" y="376" width="5" height="2" fill="#000"/>
<rect x="1024" y="372" width="1" height="13" fill="#000"/>
<rect x="1022" y="376" width="5" height="8" fill="#000"/>
<rect x="1032" y="368" width="1" height="24" fill="#000"/>
<rect x="1030" y="369" width="5" height="14" fill="#000"/>
<rect x="1031" y="370" width="3" height="12" fill="#fff"/>
<rect x="1040" y="363" width="1" height="12" fill="#000"/>
<rect x="1038" y="369" width="5" height="2" fill="#000"/>
<rect x="1048" y="357" width="1" height="35" fill="#000"/>
<rect x="1046" y="370" width="5" height="12" fill="#000"/>
<rect x="1056" y="308" width="1" height="92" fill="#000"/>
<rect x="1054" y="318" width="5" height="63" fill="#000"/>
<rect x="1055" y="319" width="3" height="61" fill="#fff"/>
<rect x="1064" y="308" width="1" height="17" fill="#000"/>
<rect x="1062" y="318" width="5" height="1" fill="#000"/>
<rect x="1072" y="310" width="1" height="27" fill="#000"/>
<rect x="1070" y="318" width="5" height="19" fill="#000"/>
<rect x="1080" y="336" width="1" height="32" fill="#000"/>
<rect x="1078" y="336" width="5" height="19" fill="#000"/>
<rect x="1088" y="337" width="1" height="98" fill="#000"/>
<rect x="1086" y="354" width="5" height="74" fill="#000"/>
<rect x="1096" y="418" width="1" height="43" fill="#000"/>
<rect x="1094" y="427" width="5" height="33" fill="#000"/>
<rect x="1104" y="439" width="1" height="23" fill="#000"/>
<rect x="1102" y="441" width="5" height="18" fill="#000"/>
<rect x="1103" y="442" width="3" height="16" fill="#fff"/>
<rect x="1112" y="437" width="1" height="11" fill="#000"/>
<rect x="1110" y="441" width="5" height="3" fill="#000"/>
<rect x="1120" y="434" width="1" height="24" fill="#000"/>
<rect x="1118" y="440" width="5" height="4" fill="#000"/>
<rect x="1119" y="441" width="3" height="2" fill="#fff"/>
<rect x="1128" y="437" width="1" height="49" fill="#000"/>
<rect x="1126" y="439" width="5" height="29" fill="#000"/>
<rect x="1136" y="434" width="1" height="38" fill="#000"/>
<rect x="1134" y="456" width="5" height="11" fill="#000"/>
<rect x="1135" y="457" width="3" height="9" fill="#fff"/>
<rect x="1144" y="436" width="1" height="38" fill="#000"/>
<rect x="1142" y="452" width="5" height="4" fill="#000"/>
<rect x="1143" y="453" width="3" height="2" fill="#fff"/>
<rect x="1152" y="443" width="1" height="16" fill="#000"/>
<rect x="1150" y="452" width="5" height="7" fill="#000"/>
<rect x="1160" y="454" width="1" height="8" fill="#000"/>
<rect x="1158" y="455" width="5" height="7" fill="#000"/>
<rect x="1168" y="460" width="1" height="22" fill="#000"/>
<rect x="1166" y="460" width="5" height="19" fill="#000"/>
<rect x="1176" y="474" width="1" height="19" fill="#000"/>
<rect x="1174" y="478" width="5" height="2" fill="#000"/>
<rect x="1184" y="438" width="1" height="52" fill="#000"/>
<rect x="1182" y="441" width="5" height="38" fill="#000"/>
<rect x="1183" y="442" width="3" height="36" fill="#fff"/>
<rect x="1192" y="421" width="1" height="53" fill="#000"/>
<rect x="1190" y="441" width="5" height="16" fill="#000"/>
<rect x="1200" y="434" width="1" height="28" fill="#000"/>
<rect x="1198" y="457" width="5" height="2" fill="#000"/>
<rect x="1208" y="453" width="1" height="10" fill="#000"/>
<rect x="1206" y="457" width="5" height="3" fill="#000"/>
<rect x="1207" y="458" width="3" height="1" fill="#fff"/>
<rect x="1216" y="438" width="1" height="28" fill="#000"/>
<rect x="1214" y="440" width="5" height="16" fill="#000"/>
<rect x="1215" y="441" width="3" height="14" fill="#fff"/>
<rect x="1224" y="436" width="1" height="30" fill="#000"/>
<rect x="1222" y="441" width="5" height="25" fill="#000"/>
<rect x="1232" y="444" width="1" height="22" fill="#000"/>
<rect x="1230" y="455" width="5" height="11" fill="#000"/>
<rect x="1231" y="456" width="3" height="9" fill="#fff"/>
<rect x="1240" y="453" width="1" height="25" fill="#000"/>
<rect x="1238" y="455" width="5" height="13" fill="#000"/>
<rect x="1248" y="458" width="1" height="20" fill="#000"/>
<rect x="1246" y="465" width="5" height="3" fill="#000"/>
<rect x="1247" y="466" width="3" height="1" fill="#fff"/>
<rect x="1256" y="462" width="1" height="9" fill="#000"/>
<rect x="1254" y="464" width="5" height="7" fill="#000"/>
<rect x="1264" y="454" width="1" height="18" fill="#000"/>
<rect x="1262" y="459" width="5" height="12" fill="#000"/>
<rect x="1263" y="460" width="3" height="10" fill="#fff"/>
<rect x="1272" y="450" width="1" height="13" fill="#000"/>
<rect x="1270" y="451" width="5" height="8" fill="#000"/>
<rect x="1271" y="452" width="3" height="6" fill="#fff"/>
<rect x="1280" y="429" width="1" height="33" fill="#000"/>
<rect x="1278" y="446" width="5" height="6" fill="#000"/>
<rect x="1279" y="447" width="3" height="4" fill="#fff"/>
<rect x="1288" y="424" width="1" height="61" fill="#000"/>
<rect x="1286" y="445" width="5" height="22" fill="#000"/>
<rect x="1296" y="461" width="1" height="44" fill="#000"/>
<rect x="1294" y="466" width="5" height="36" fill="#000"/>
<rect x="1304" y="496" width="1" height="11" fill="#000"/>
<rect x="1302" y="501" width="5" height="6" fill="#000"/>
<rect x="1312" y="499" width="1" height="19" fill="#000"/>
<rect x="1310" y="506" width="5" height="4" fill="#000"/>
<rect x="1320" y="507" width="1" height="26" fill="#000"/>
<rect x="1318" y="507" width="5" height="16" fill="#000"/>
<rect x="1328" y="513" width="1" height="27" fill="#000"/>
<rect x="1326" y="522" width="5" height="3" fill="#000"/>
<rect x="1336" y="499" width="1" height="29" fill="#000"/>
<rect x="1334" y="524" width="5" height="1" fill="#000"/>
<rect x="1344" y="513" width="1" height="23" fill="#000"/>
<rect x="1342" y="524" width="5" height="3" fill="#000"/>
<rect x="1352" y="519" width="1" height="9" fill="#000"/>
<rect x="1350" y="520" width="5" height="7" fill="#000"/>
<rect x="1351" y="521" width="3" height="5" fill="#fff"/>
<rect x="1360" y="509" width="1" height="17" fill="#000"/>
<rect x="1358" y="514" width="5" height="7" fill="#000"/>
<rect x="1359" y="515" width="3" height="5" fill="#fff"/>
<rect x="1368" y="507" width="1" height="16" fill="#000"/>
<rect x="1366" y="514" width="5" height="1" fill="#000"/>
<rect x="1376" y="509" width="1" height="27" fill="#000"/>
<rect x="1374" y="514" width="5" height="13" fill="#000"/>
<rect x="1384" y="500" width="1" height="45" fill="#000"/>
<rect x="1382" y="501" width="5" height="25" fill="#000"/>
<rect x="1383" y="502" width="3" height="23" fill="#fff"/>
<rect x="1392" y="498" width="1" height="15" fill="#000"/>
<rect x="1390" y="501" width="5" height="2" fill="#000"/>
<rect x="1400" y="492" width="1" height="8" fill="#000"/>
<rect x="1398" y="495" width="5" height="3" fill="#000"/>
<rect x="1399" y="496" width="3" height="1" fill="#fff"/>
<rect x="1408" y="475" width="1" height="32" fill="#000"/>
<rect x="1406" y="493" width="5" height="12" fill="#000"/>
<rect x="1416" y="496" width="1" height="19" fill="#000"/>
<rect x="1414" y="504" width="5" height="10" fill="#000"/>
<rect x="1424" y="488" width="1" height="25" fill="#000"/>
<rect x="1422" y="493" width="5" height="20" fill="#000"/>
<rect x="1423" y="494" width="3" height="18" fill="#fff"/>
<rect x="1432" y="486" width="1" height="19" fill="#000"/>
<rect x="1430" y="488" width="5" height="5" fill="#000"/>
<rect x="1431" y="489" width="3" height="3" fill="#fff"/>
<rect x="1440" y="459" width="1" height="32" fill="#000"/>
<rect x="1438" y="465" width="5" height="24" fill="#000"/>
<rect x="1439" y="466" width="3" height="22" fill="#fff"/>
<rect x="1448" y="461" width="1" height="6" fill="#000"/>
<rect x="1446" y="462" width="5" height="4" fill="#000"/>
<rect x="1447" y="463" width="3" height="2" fill="#fff"/>
<rect x="1454" y="462" width="5" height="2" fill="#000"/>
</g>
<path d="M1464,23 h9.5 l-4.75,5 z" fill="#b4b4b4"/>
<rect x="0" y="40" width="216" height="61" fill="#ffffff"/>
<g shape-rendering="crispEdges">
<rect x="0" y="42" width="47" height="24" fill="url(#gSell)"/>
<rect x="0" y="42" width="47" height="1" fill="#2020c8"/>
<rect x="46" y="42" width="1" height="24" fill="#2a2ad0"/>
<rect x="162" y="42" width="52" height="24" fill="url(#gSell)"/>
<rect x="162" y="42" width="52" height="1" fill="#2020c8"/>
<rect x="162" y="42" width="1" height="24" fill="#2a2ad0"/>
<rect x="213" y="42" width="1" height="24" fill="#2a2ad0"/>
<rect x="0" y="66" width="104" height="33" fill="url(#gPrice)"/>
<rect x="106" y="66" width="108" height="33" fill="url(#gPrice)"/>
<rect x="103" y="66" width="1" height="33" fill="#0808a0"/>
<rect x="106" y="66" width="1" height="33" fill="#0808a0"/>
<rect x="213" y="66" width="1" height="33" fill="#0808a0"/>
<rect x="0" y="98" width="104" height="1" fill="#0404a0"/>
<rect x="106" y="98" width="108" height="1" fill="#0404a0"/>
<rect x="0" y="65" width="43" height="1" fill="#2424c0"/>
<rect x="0" y="66" width="43" height="1" fill="#7878f0"/>
<rect x="166" y="65" width="44" height="1" fill="#2424c0"/>
<rect x="166" y="66" width="44" height="1" fill="#7878f0"/>
<rect x="49" y="42" width="112" height="22" fill="#a6a6a6"/>
<rect x="50" y="43" width="110" height="20" fill="#ffffff"/>
<rect x="51" y="44" width="19" height="18" fill="url(#gBtn)"/>
<rect x="70" y="43" width="1" height="20" fill="#b4b4b4"/>
<rect x="138" y="43" width="1" height="20" fill="#b4b4b4"/>
<rect x="140" y="44" width="19" height="18" fill="url(#gBtn)"/>
</g>
<path d="M57,51 h5.4 l-2.7,3.2 z" fill="#4a5ac8"/>
<path d="M147,54 h5.4 l-2.7,-3.2 z" fill="#4a5ac8"/>
<text x="135" y="57" font-family="'Liberation Sans',sans-serif" font-size="12" fill="#000" text-anchor="end" font-weight="normal">1.00</text>
<text x="20.3" y="58.1" font-family="'Liberation Sans',sans-serif" font-size="12" fill="#ffffff" text-anchor="middle" font-weight="normal" letter-spacing="-0.9">SELL</text>
<text x="187.5" y="58.1" font-family="'Liberation Sans',sans-serif" font-size="12" fill="#ffffff" text-anchor="middle" font-weight="normal" letter-spacing="-0.8">BUY</text>
<text x="15.3" y="93.8" font-family="'Liberation Sans',sans-serif" font-size="12" fill="#ffffff" text-anchor="start" font-weight="bold">1.23</text>
<text x="42.2" y="93.8" font-family="'Liberation Sans',sans-serif" font-size="32.5" fill="#ffffff" text-anchor="start" font-weight="normal" letter-spacing="-1">21</text>
<text x="81.6" y="77.8" font-family="'Liberation Sans',sans-serif" font-size="12" fill="#ffffff" text-anchor="start" font-weight="normal">7</text>
<text x="125.4" y="93.8" font-family="'Liberation Sans',sans-serif" font-size="12" fill="#ffffff" text-anchor="start" font-weight="bold">1.23</text>
<text x="153" y="93.8" font-family="'Liberation Sans',sans-serif" font-size="32.5" fill="#ffffff" text-anchor="start" font-weight="normal" letter-spacing="-1">24</text>
<text x="193" y="78.3" font-family="'Liberation Sans',sans-serif" font-size="12" fill="#ffffff" text-anchor="start" font-weight="normal">8</text>
<path d="M0,29.5 l2.5,2.5 h-2.5 z" fill="#000"/>
<text x="6.8" y="34" font-family="'Liberation Sans',sans-serif" font-size="10.1" fill="#000" text-anchor="start" font-weight="normal" textLength="205" lengthAdjust="spacingAndGlyphs" text-rendering="geometricPrecision">GBPUSD-,H4&#160;&#160;1.23205 1.23217 1.23205 1.23217</text>
<path d="M1377.3,545.6 L1420,504.3 L1461.5,465" stroke="#ff0000" stroke-width="2.8" fill="none" stroke-linejoin="round"/>
<path d="M1467.8,458.9 L1463.4,469.8 L1460.5,466.3 L1457.2,463.2 L1456.8,461.6 Z" fill="#ff0000"/>
</g>
<g shape-rendering="crispEdges">
<rect x="1652" y="26" width="2" height="1" fill="#000"/>
<rect x="1652" y="59" width="2" height="1" fill="#000"/>
<rect x="1652" y="92" width="2" height="1" fill="#000"/>
<rect x="1652" y="125" width="2" height="1" fill="#000"/>
<rect x="1652" y="158" width="2" height="1" fill="#000"/>
<rect x="1652" y="191" width="2" height="1" fill="#000"/>
<rect x="1652" y="224" width="2" height="1" fill="#000"/>
<rect x="1652" y="257" width="2" height="1" fill="#000"/>
<rect x="1652" y="290" width="2" height="1" fill="#000"/>
<rect x="1652" y="323" width="2" height="1" fill="#000"/>
<rect x="1652" y="356" width="2" height="1" fill="#000"/>
<rect x="1652" y="389" width="2" height="1" fill="#000"/>
<rect x="1652" y="422" width="2" height="1" fill="#000"/>
<rect x="1652" y="455" width="2" height="1" fill="#000"/>
<rect x="1652" y="488" width="2" height="1" fill="#000"/>
<rect x="1652" y="521" width="2" height="1" fill="#000"/>
<rect x="1652" y="554" width="2" height="1" fill="#000"/>
</g>
<text x="1656.7" y="29.9" font-family="'Liberation Sans',sans-serif" font-size="10.1" fill="#000" text-anchor="start" font-weight="normal" textLength="34.3" lengthAdjust="spacingAndGlyphs" text-rendering="geometricPrecision">1.32110</text>
<text x="1656.7" y="62.9" font-family="'Liberation Sans',sans-serif" font-size="10.1" fill="#000" text-anchor="start" font-weight="normal" textLength="34.3" lengthAdjust="spacingAndGlyphs" text-rendering="geometricPrecision">1.31450</text>
<text x="1656.7" y="95.9" font-family="'Liberation Sans',sans-serif" font-size="10.1" fill="#000" text-anchor="start" font-weight="normal" textLength="34.3" lengthAdjust="spacingAndGlyphs" text-rendering="geometricPrecision">1.30770</text>
<text x="1656.7" y="128.9" font-family="'Liberation Sans',sans-serif" font-size="10.1" fill="#000" text-anchor="start" font-weight="normal" textLength="34.3" lengthAdjust="spacingAndGlyphs" text-rendering="geometricPrecision">1.30090</text>
<text x="1656.7" y="161.9" font-family="'Liberation Sans',sans-serif" font-size="10.1" fill="#000" text-anchor="start" font-weight="normal" textLength="34.3" lengthAdjust="spacingAndGlyphs" text-rendering="geometricPrecision">1.29430</text>
<text x="1656.7" y="194.9" font-family="'Liberation Sans',sans-serif" font-size="10.1" fill="#000" text-anchor="start" font-weight="normal" textLength="34.3" lengthAdjust="spacingAndGlyphs" text-rendering="geometricPrecision">1.28750</text>
<text x="1656.7" y="227.9" font-family="'Liberation Sans',sans-serif" font-size="10.1" fill="#000" text-anchor="start" font-weight="normal" textLength="34.3" lengthAdjust="spacingAndGlyphs" text-rendering="geometricPrecision">1.28070</text>
<text x="1656.7" y="260.9" font-family="'Liberation Sans',sans-serif" font-size="10.1" fill="#000" text-anchor="start" font-weight="normal" textLength="34.3" lengthAdjust="spacingAndGlyphs" text-rendering="geometricPrecision">1.27410</text>
<text x="1656.7" y="293.9" font-family="'Liberation Sans',sans-serif" font-size="10.1" fill="#000" text-anchor="start" font-weight="normal" textLength="34.3" lengthAdjust="spacingAndGlyphs" text-rendering="geometricPrecision">1.26730</text>
<text x="1656.7" y="326.9" font-family="'Liberation Sans',sans-serif" font-size="10.1" fill="#000" text-anchor="start" font-weight="normal" textLength="34.3" lengthAdjust="spacingAndGlyphs" text-rendering="geometricPrecision">1.26050</text>
<text x="1656.7" y="359.9" font-family="'Liberation Sans',sans-serif" font-size="10.1" fill="#000" text-anchor="start" font-weight="normal" textLength="34.3" lengthAdjust="spacingAndGlyphs" text-rendering="geometricPrecision">1.25390</text>
<text x="1656.7" y="392.9" font-family="'Liberation Sans',sans-serif" font-size="10.1" fill="#000" text-anchor="start" font-weight="normal" textLength="34.3" lengthAdjust="spacingAndGlyphs" text-rendering="geometricPrecision">1.24710</text>
<text x="1656.7" y="425.9" font-family="'Liberation Sans',sans-serif" font-size="10.1" fill="#000" text-anchor="start" font-weight="normal" textLength="34.3" lengthAdjust="spacingAndGlyphs" text-rendering="geometricPrecision">1.24030</text>
<text x="1656.7" y="458.9" font-family="'Liberation Sans',sans-serif" font-size="10.1" fill="#000" text-anchor="start" font-weight="normal" textLength="34.3" lengthAdjust="spacingAndGlyphs" text-rendering="geometricPrecision">1.23370</text>
<text x="1656.7" y="491.9" font-family="'Liberation Sans',sans-serif" font-size="10.1" fill="#000" text-anchor="start" font-weight="normal" textLength="34.3" lengthAdjust="spacingAndGlyphs" text-rendering="geometricPrecision">1.22690</text>
<text x="1656.7" y="524.9" font-family="'Liberation Sans',sans-serif" font-size="10.1" fill="#000" text-anchor="start" font-weight="normal" textLength="34.3" lengthAdjust="spacingAndGlyphs" text-rendering="geometricPrecision">1.22010</text>
<text x="1656.7" y="557.9" font-family="'Liberation Sans',sans-serif" font-size="10.1" fill="#000" text-anchor="start" font-weight="normal" textLength="34.3" lengthAdjust="spacingAndGlyphs" text-rendering="geometricPrecision">1.21350</text>
<rect x="1653" y="406" width="41" height="11" fill="#ff4500" shape-rendering="crispEdges"/>
<text x="1656.7" y="414.9" font-family="'Liberation Sans',sans-serif" font-size="10.1" fill="#fff" text-anchor="start" font-weight="normal" textLength="34.3" lengthAdjust="spacingAndGlyphs" text-rendering="geometricPrecision">1.24244</text>
<rect x="1653" y="432" width="41" height="11" fill="#ff0000" shape-rendering="crispEdges"/>
<text x="1656.7" y="440.9" font-family="'Liberation Sans',sans-serif" font-size="10.1" fill="#fff" text-anchor="start" font-weight="normal" textLength="34.3" lengthAdjust="spacingAndGlyphs" text-rendering="geometricPrecision">1.23711</text>
<rect x="1653" y="457" width="41" height="11" fill="#000000" shape-rendering="crispEdges"/>
<text x="1656.7" y="465.9" font-family="'Liberation Sans',sans-serif" font-size="10.1" fill="#fff" text-anchor="start" font-weight="normal" textLength="34.3" lengthAdjust="spacingAndGlyphs" text-rendering="geometricPrecision">1.23217</text>
<rect x="1651" y="462" width="1" height="1" fill="#808080"/>
<rect x="1653" y="472" width="41" height="11" fill="#32cd32" shape-rendering="crispEdges"/>
<text x="1656.7" y="480.9" font-family="'Liberation Sans',sans-serif" font-size="10.1" fill="#fff" text-anchor="start" font-weight="normal" textLength="34.3" lengthAdjust="spacingAndGlyphs" text-rendering="geometricPrecision">1.22900</text>
<rect x="1653" y="501" width="41" height="11" fill="#0000ff" shape-rendering="crispEdges"/>
<text x="1656.7" y="509.9" font-family="'Liberation Sans',sans-serif" font-size="10.1" fill="#fff" text-anchor="start" font-weight="normal" textLength="34.3" lengthAdjust="spacingAndGlyphs" text-rendering="geometricPrecision">1.22292</text>
<rect x="1653" y="534" width="41" height="11" fill="#0000ff" shape-rendering="crispEdges"/>
<text x="1656.7" y="542.9" font-family="'Liberation Sans',sans-serif" font-size="10.1" fill="#fff" text-anchor="start" font-weight="normal" textLength="34.3" lengthAdjust="spacingAndGlyphs" text-rendering="geometricPrecision">1.21636</text>
<g clip-path="url(#cMacd)">
<g shape-rendering="crispEdges">
<rect x="0" y="597" width="1" height="12" fill="#c0c0c0"/>
<rect x="8" y="597" width="1" height="12" fill="#c0c0c0"/>
<rect x="16" y="597" width="1" height="10" fill="#c0c0c0"/>
<rect x="24" y="597" width="1" height="9" fill="#c0c0c0"/>
<rect x="32" y="597" width="1" height="7" fill="#c0c0c0"/>
<rect x="40" y="597" width="1" height="9" fill="#c0c0c0"/>
<rect x="48" y="597" width="1" height="12" fill="#c0c0c0"/>
<rect x="56" y="597" width="1" height="17" fill="#c0c0c0"/>
<rect x="64" y="597" width="1" height="20" fill="#c0c0c0"/>
<rect x="72" y="597" width="1" height="23" fill="#c0c0c0"/>
<rect x="80" y="597" width="1" height="23" fill="#c0c0c0"/>
<rect x="88" y="597" width="1" height="23" fill="#c0c0c0"/>
<rect x="96" y="597" width="1" height="24" fill="#c0c0c0"/>
<rect x="104" y="597" width="1" height="25" fill="#c0c0c0"/>
<rect x="112" y="597" width="1" height="23" fill="#c0c0c0"/>
<rect x="120" y="597" width="1" height="21" fill="#c0c0c0"/>
<rect x="128" y="597" width="1" height="20" fill="#c0c0c0"/>
<rect x="136" y="597" width="1" height="22" fill="#c0c0c0"/>
<rect x="144" y="597" width="1" height="22" fill="#c0c0c0"/>
<rect x="152" y="597" width="1" height="21" fill="#c0c0c0"/>
<rect x="160" y="597" width="1" height="21" fill="#c0c0c0"/>
<rect x="168" y="597" width="1" height="23" fill="#c0c0c0"/>
<rect x="176" y="597" width="1" height="28" fill="#c0c0c0"/>
<rect x="184" y="597" width="1" height="30" fill="#c0c0c0"/>
<rect x="192" y="597" width="1" height="31" fill="#c0c0c0"/>
<rect x="200" y="597" width="1" height="32" fill="#c0c0c0"/>
<rect x="208" y="597" width="1" height="34" fill="#c0c0c0"/>
<rect x="216" y="597" width="1" height="34" fill="#c0c0c0"/>
<rect x="224" y="597" width="1" height="34" fill="#c0c0c0"/>
<rect x="232" y="597" width="1" height="32" fill="#c0c0c0"/>
<rect x="240" y="597" width="1" height="32" fill="#c0c0c0"/>
<rect x="248" y="597" width="1" height="31" fill="#c0c0c0"/>
<rect x="256" y="597" width="1" height="31" fill="#c0c0c0"/>
<rect x="264" y="597" width="1" height="32" fill="#c0c0c0"/>
<rect x="272" y="597" width="1" height="30" fill="#c0c0c0"/>
<rect x="280" y="597" width="1" height="28" fill="#c0c0c0"/>
<rect x="288" y="597" width="1" height="29" fill="#c0c0c0"/>
<rect x="296" y="597" width="1" height="29" fill="#c0c0c0"/>
<rect x="304" y="597" width="1" height="29" fill="#c0c0c0"/>
<rect x="312" y="597" width="1" height="29" fill="#c0c0c0"/>
<rect x="320" y="597" width="1" height="29" fill="#c0c0c0"/>
<rect x="328" y="597" width="1" height="20" fill="#c0c0c0"/>
<rect x="336" y="597" width="1" height="8" fill="#c0c0c0"/>
<rect x="344" y="594" width="1" height="4" fill="#c0c0c0"/>
<rect x="352" y="583" width="1" height="15" fill="#c0c0c0"/>
<rect x="360" y="575" width="1" height="23" fill="#c0c0c0"/>
<rect x="368" y="571" width="1" height="27" fill="#c0c0c0"/>
<rect x="376" y="577" width="1" height="21" fill="#c0c0c0"/>
<rect x="384" y="578" width="1" height="20" fill="#c0c0c0"/>
<rect x="392" y="581" width="1" height="17" fill="#c0c0c0"/>
<rect x="400" y="583" width="1" height="15" fill="#c0c0c0"/>
<rect x="408" y="585" width="1" height="13" fill="#c0c0c0"/>
<rect x="416" y="587" width="1" height="11" fill="#c0c0c0"/>
<rect x="424" y="589" width="1" height="9" fill="#c0c0c0"/>
<rect x="432" y="590" width="1" height="8" fill="#c0c0c0"/>
<rect x="440" y="592" width="1" height="6" fill="#c0c0c0"/>
<rect x="448" y="597" width="1" height="1" fill="#c0c0c0"/>
<rect x="456" y="597" width="1" height="7" fill="#c0c0c0"/>
<rect x="464" y="597" width="1" height="9" fill="#c0c0c0"/>
<rect x="472" y="597" width="1" height="12" fill="#c0c0c0"/>
<rect x="480" y="597" width="1" height="16" fill="#c0c0c0"/>
<rect x="488" y="597" width="1" height="19" fill="#c0c0c0"/>
<rect x="496" y="597" width="1" height="22" fill="#c0c0c0"/>
<rect x="504" y="597" width="1" height="22" fill="#c0c0c0"/>
<rect x="512" y="597" width="1" height="22" fill="#c0c0c0"/>
<rect x="520" y="597" width="1" height="22" fill="#c0c0c0"/>
<rect x="528" y="597" width="1" height="24" fill="#c0c0c0"/>
<rect x="536" y="597" width="1" height="23" fill="#c0c0c0"/>
<rect x="544" y="597" width="1" height="18" fill="#c0c0c0"/>
<rect x="552" y="597" width="1" height="19" fill="#c0c0c0"/>
<rect x="560" y="597" width="1" height="14" fill="#c0c0c0"/>
<rect x="568" y="597" width="1" height="9" fill="#c0c0c0"/>
<rect x="576" y="597" width="1" height="4" fill="#c0c0c0"/>
<rect x="584" y="597" width="1" height="2" fill="#c0c0c0"/>
<rect x="592" y="596" width="1" height="2" fill="#c0c0c0"/>
<rect x="600" y="592" width="1" height="6" fill="#c0c0c0"/>
<rect x="608" y="594" width="1" height="4" fill="#c0c0c0"/>
<rect x="616" y="594" width="1" height="4" fill="#c0c0c0"/>
<rect x="624" y="596" width="1" height="2" fill="#c0c0c0"/>
<rect x="632" y="597" width="1" height="2" fill="#c0c0c0"/>
<rect x="640" y="597" width="1" height="4" fill="#c0c0c0"/>
<rect x="648" y="597" width="1" height="20" fill="#c0c0c0"/>
<rect x="656" y="597" width="1" height="33" fill="#c0c0c0"/>
<rect x="664" y="597" width="1" height="50" fill="#c0c0c0"/>
<rect x="672" y="597" width="1" height="66" fill="#c0c0c0"/>
<rect x="680" y="597" width="1" height="77" fill="#c0c0c0"/>
<rect x="688" y="597" width="1" height="88" fill="#c0c0c0"/>
<rect x="696" y="597" width="1" height="102" fill="#c0c0c0"/>
<rect x="704" y="597" width="1" height="112" fill="#c0c0c0"/>
<rect x="712" y="597" width="1" height="125" fill="#c0c0c0"/>
<rect x="720" y="597" width="1" height="129" fill="#c0c0c0"/>
<rect x="728" y="597" width="1" height="131" fill="#c0c0c0"/>
<rect x="736" y="597" width="1" height="127" fill="#c0c0c0"/>
<rect x="744" y="597" width="1" height="130" fill="#c0c0c0"/>
<rect x="752" y="597" width="1" height="134" fill="#c0c0c0"/>
<rect x="760" y="597" width="1" height="144" fill="#c0c0c0"/>
<rect x="768" y="597" width="1" height="154" fill="#c0c0c0"/>
<rect x="776" y="597" width="1" height="160" fill="#c0c0c0"/>
<rect x="784" y="597" width="1" height="165" fill="#c0c0c0"/>
<rect x="792" y="597" width="1" height="167" fill="#c0c0c0"/>
<rect x="800" y="597" width="1" height="167" fill="#c0c0c0"/>
<rect x="808" y="597" width="1" height="168" fill="#c0c0c0"/>
<rect x="816" y="597" width="1" height="167" fill="#c0c0c0"/>
<rect x="824" y="597" width="1" height="165" fill="#c0c0c0"/>
<rect x="832" y="597" width="1" height="166" fill="#c0c0c0"/>
<rect x="840" y="597" width="1" height="158" fill="#c0c0c0"/>
<rect x="848" y="597" width="1" height="167" fill="#c0c0c0"/>
<rect x="856" y="597" width="1" height="172" fill="#c0c0c0"/>
<rect x="864" y="597" width="1" height="167" fill="#c0c0c0"/>
<rect x="872" y="597" width="1" height="164" fill="#c0c0c0"/>
<rect x="880" y="597" width="1" height="157" fill="#c0c0c0"/>
<rect x="888" y="597" width="1" height="140" fill="#c0c0c0"/>
<rect x="896" y="597" width="1" height="125" fill="#c0c0c0"/>
<rect x="904" y="597" width="1" height="112" fill="#c0c0c0"/>
<rect x="912" y="597" width="1" height="95" fill="#c0c0c0"/>
<rect x="920" y="597" width="1" height="85" fill="#c0c0c0"/>
<rect x="928" y="597" width="1" height="77" fill="#c0c0c0"/>
<rect x="936" y="597" width="1" height="68" fill="#c0c0c0"/>
<rect x="944" y="597" width="1" height="62" fill="#c0c0c0"/>
<rect x="952" y="597" width="1" height="62" fill="#c0c0c0"/>
<rect x="960" y="597" width="1" height="65" fill="#c0c0c0"/>
<rect x="968" y="597" width="1" height="65" fill="#c0c0c0"/>
<rect x="976" y="597" width="1" height="60" fill="#c0c0c0"/>
<rect x="984" y="597" width="1" height="55" fill="#c0c0c0"/>
<rect x="992" y="597" width="1" height="52" fill="#c0c0c0"/>
<rect x="1000" y="597" width="1" height="50" fill="#c0c0c0"/>
<rect x="1008" y="597" width="1" height="51" fill="#c0c0c0"/>
<rect x="1016" y="597" width="1" height="52" fill="#c0c0c0"/>
<rect x="1024" y="597" width="1" height="52" fill="#c0c0c0"/>
<rect x="1032" y="597" width="1" height="49" fill="#c0c0c0"/>
<rect x="1040" y="597" width="1" height="45" fill="#c0c0c0"/>
<rect x="1048" y="597" width="1" height="45" fill="#c0c0c0"/>
<rect x="1056" y="597" width="1" height="29" fill="#c0c0c0"/>
<rect x="1064" y="597" width="1" height="16" fill="#c0c0c0"/>
<rect x="1072" y="597" width="1" height="9" fill="#c0c0c0"/>
<rect x="1080" y="597" width="1" height="9" fill="#c0c0c0"/>
<rect x="1088" y="597" width="1" height="28" fill="#c0c0c0"/>
<rect x="1096" y="597" width="1" height="50" fill="#c0c0c0"/>
<rect x="1104" y="597" width="1" height="64" fill="#c0c0c0"/>
<rect x="1112" y="597" width="1" height="73" fill="#c0c0c0"/>
<rect x="1120" y="597" width="1" height="79" fill="#c0c0c0"/>
<rect x="1128" y="597" width="1" height="90" fill="#c0c0c0"/>
<rect x="1136" y="597" width="1" height="94" fill="#c0c0c0"/>
<rect x="1144" y="597" width="1" height="95" fill="#c0c0c0"/>
<rect x="1152" y="597" width="1" height="97" fill="#c0c0c0"/>
<rect x="1160" y="597" width="1" height="98" fill="#c0c0c0"/>
<rect x="1168" y="597" width="1" height="102" fill="#c0c0c0"/>
<rect x="1176" y="597" width="1" height="105" fill="#c0c0c0"/>
<rect x="1184" y="597" width="1" height="96" fill="#c0c0c0"/>
<rect x="1192" y="597" width="1" height="90" fill="#c0c0c0"/>
<rect x="1200" y="597" width="1" height="87" fill="#c0c0c0"/>
<rect x="1208" y="597" width="1" height="83" fill="#c0c0c0"/>
<rect x="1216" y="597" width="1" height="74" fill="#c0c0c0"/>
<rect x="1224" y="597" width="1" height="73" fill="#c0c0c0"/>
<rect x="1232" y="597" width="1" height="68" fill="#c0c0c0"/>
<rect x="1240" y="597" width="1" height="67" fill="#c0c0c0"/>
<rect x="1248" y="597" width="1" height="65" fill="#c0c0c0"/>
<rect x="1256" y="597" width="1" height="64" fill="#c0c0c0"/>
<rect x="1264" y="597" width="1" height="59" fill="#c0c0c0"/>
<rect x="1272" y="597" width="1" height="52" fill="#c0c0c0"/>
<rect x="1280" y="597" width="1" height="45" fill="#c0c0c0"/>
<rect x="1288" y="597" width="1" height="45" fill="#c0c0c0"/>
<rect x="1296" y="597" width="1" height="54" fill="#c0c0c0"/>
<rect x="1304" y="597" width="1" height="60" fill="#c0c0c0"/>
<rect x="1312" y="597" width="1" height="67" fill="#c0c0c0"/>
<rect x="1320" y="597" width="1" height="74" fill="#c0c0c0"/>
<rect x="1328" y="597" width="1" height="79" fill="#c0c0c0"/>
<rect x="1336" y="597" width="1" height="82" fill="#c0c0c0"/>
<rect x="1344" y="597" width="1" height="85" fill="#c0c0c0"/>
<rect x="1352" y="597" width="1" height="84" fill="#c0c0c0"/>
<rect x="1360" y="597" width="1" height="81" fill="#c0c0c0"/>
<rect x="1368" y="597" width="1" height="79" fill="#c0c0c0"/>
<rect x="1376" y="597" width="1" height="77" fill="#c0c0c0"/>
<rect x="1384" y="597" width="1" height="69" fill="#c0c0c0"/>
<rect x="1392" y="597" width="1" height="63" fill="#c0c0c0"/>
<rect x="1400" y="597" width="1" height="57" fill="#c0c0c0"/>
<rect x="1408" y="597" width="1" height="51" fill="#c0c0c0"/>
<rect x="1416" y="597" width="1" height="49" fill="#c0c0c0"/>
<rect x="1424" y="597" width="1" height="42" fill="#c0c0c0"/>
<rect x="1432" y="597" width="1" height="34" fill="#c0c0c0"/>
<rect x="1440" y="597" width="1" height="23" fill="#c0c0c0"/>
<rect x="1448" y="597" width="1" height="12" fill="#c0c0c0"/>
<rect x="1456" y="597" width="1" height="4" fill="#c0c0c0"/>
<polyline points="0.0,608.0 25.0,608.8 57.0,608.3 75.0,610.5 95.0,614.5 125.0,619.3 150.0,618.8 170.0,618.3 190.0,620.5 212.0,623.8 237.0,628.3 262.0,629.3 287.0,628.0 312.0,626.3 327.0,623.8 340.0,620.5 352.0,613.8 362.0,606.3 375.0,596.3 387.0,588.8 400.0,582.0 412.0,579.3 420.0,579.5 440.0,583.8 460.0,591.3 477.5,597.5 495.0,603.0 512.5,611.3 530.0,615.8 545.0,617.0 560.0,616.8 572.5,613.8 585.0,610.5 602.5,603.8 620.0,599.5 635.0,596.5 645.0,596.5 653.8,599.5 670.0,613.0 682.5,627.5 695.0,643.8 710.0,667.5 727.5,692.5 745.0,711.3 757.5,720.0 775.0,732.5 795.0,743.0 812.5,752.5 825.0,758.8 840.0,762.0 855.0,763.0 872.5,763.0 887.5,758.8 902.5,748.8 920.0,732.5 935.0,712.5 947.5,693.8 962.5,678.0 980.0,665.0 1000.0,656.3 1022.5,652.5 1045.0,648.0 1062.5,641.3 1075.0,633.8 1090.0,628.8 1105.0,629.3 1117.5,634.5 1130.0,645.0 1145.0,662.5 1162.5,680.0 1175.0,688.8 1192.5,692.5 1210.0,691.3 1230.0,684.5 1247.5,674.5 1260.0,669.5 1272.5,661.3 1285.0,656.3 1302.5,653.8 1320.0,653.8 1332.5,658.0 1345.0,662.5 1360.0,670.5 1372.5,673.8 1387.5,674.5 1400.0,671.3 1415.0,663.8 1430.0,655.0 1442.5,645.5 1455.0,635.0" fill="none" stroke="#ff0000" stroke-width="1" stroke-dasharray="3,3"/>
</g>
<text x="-3.2" y="571.8" font-family="'Liberation Sans',sans-serif" font-size="10.1" fill="#000" text-anchor="start" font-weight="normal" textLength="154" lengthAdjust="spacingAndGlyphs" text-rendering="geometricPrecision">MACD(12,26,9) -0.000187 -0.002245</text>
<path d="M1358,683.5 L1462,606" stroke="#ff0000" stroke-width="2.6" fill="none"/>
<path d="M1470,600.5 L1464.3,610.6 L1461.3,607.2 L1458,603.6 Z" fill="#ff0000"/>
</g>
<g shape-rendering="crispEdges">
<rect x="1652" y="561" width="1" height="1" fill="#000"/>
<rect x="1652" y="597" width="1" height="1" fill="#000"/>
<rect x="1652" y="777" width="1" height="1" fill="#000"/>
<rect x="1652" y="782" width="1" height="1" fill="#000"/>
<rect x="1652" y="922" width="1" height="1" fill="#000"/>
</g>
<text x="1654.7" y="569.9" font-family="'Liberation Sans',sans-serif" font-size="10.1" fill="#000" text-anchor="start" font-weight="normal" textLength="34.3" lengthAdjust="spacingAndGlyphs" text-rendering="geometricPrecision">0.00226</text>
<text x="1654.7" y="600.9" font-family="'Liberation Sans',sans-serif" font-size="10.1" fill="#000" text-anchor="start" font-weight="normal" textLength="18.7" lengthAdjust="spacingAndGlyphs" text-rendering="geometricPrecision">0.00</text>
<text x="1653.3" y="775.3" font-family="'Liberation Sans',sans-serif" font-size="10.1" fill="#000" text-anchor="start" font-weight="normal" textLength="42.5" lengthAdjust="spacingAndGlyphs" text-rendering="geometricPrecision">-0.011252</text>
<g clip-path="url(#cRsi)">
<g shape-rendering="crispEdges">
<line x1="0" y1="810.5" x2="1651" y2="810.5" stroke="#c0c0c0" stroke-width="1" stroke-dasharray="3,3"/>
<line x1="0" y1="852.5" x2="1651" y2="852.5" stroke="#c0c0c0" stroke-width="1" stroke-dasharray="3,3"/>
<line x1="0" y1="901.5" x2="1651" y2="901.5" stroke="#c0c0c0" stroke-width="1" stroke-dasharray="3,3"/>
<polyline points="0.0,856.3 8.0,857.0 16.0,857.5 24.0,852.0 32.0,848.3 40.0,862.0 48.0,868.3 56.0,869.3 64.0,870.0 72.0,872.0 80.0,862.0 88.0,863.8 96.0,865.8 104.0,868.0 112.0,863.3 120.0,857.0 128.0,860.5 136.0,869.3 144.0,861.3 152.0,863.0 160.0,863.3 168.0,873.0 176.0,876.3 184.0,876.3 192.0,871.3 200.0,874.3 208.0,879.3 216.0,870.8 224.0,869.3 232.0,868.3 240.0,872.0 248.0,872.5 256.0,871.3 264.0,875.0 272.0,869.3 280.0,863.8 288.0,875.5 296.0,875.5 304.0,868.3 312.0,873.0 320.0,873.0 328.0,837.5 336.0,828.8 344.0,825.5 352.0,822.0 360.0,823.8 368.0,830.8 376.0,855.0 384.0,848.3 392.0,852.0 400.0,852.0 408.0,849.0 416.0,852.0 424.0,854.3 432.0,852.0 440.0,854.3 448.0,863.8 456.0,869.3 464.0,858.3 472.0,863.0 480.0,866.3 488.0,866.3 496.0,867.5 504.0,863.3 512.0,862.0 520.0,863.8 528.0,867.5 536.0,861.3 544.0,849.3 552.0,863.0 560.0,846.3 568.0,846.3 576.0,843.3 584.0,842.0 592.0,850.5 600.0,841.3 608.0,855.5 616.0,851.3 624.0,855.0 632.0,857.0 640.0,858.0 648.0,881.3 656.0,881.3 664.0,888.3 672.0,891.8 680.0,889.3 688.0,892.5 696.0,897.5 704.0,895.8 712.0,900.5 720.0,886.8 728.0,888.3 736.0,879.3 744.0,885.0 752.0,888.8 760.0,893.8 768.0,895.5 776.0,896.3 784.0,896.3 792.0,897.5 800.0,897.5 808.0,899.5 816.0,898.3 824.0,899.5 832.0,901.3 840.0,884.3 848.0,896.3 856.0,892.0 864.0,885.5 872.0,885.0 880.0,880.0 888.0,862.5 896.0,863.3 904.0,860.0 912.0,854.5 920.0,858.8 928.0,861.3 936.0,857.0 944.0,860.0 952.0,866.8 960.0,871.3 968.0,869.3 976.0,861.3 984.0,860.0 992.0,861.3 1000.0,865.0 1008.0,868.3 1016.0,867.0 1024.0,870.5 1032.0,861.3 1040.0,862.5 1048.0,867.0 1056.0,838.0 1064.0,838.0 1072.0,846.3 1080.0,853.0 1088.0,874.3 1096.0,880.0 1104.0,873.0 1112.0,874.3 1120.0,872.0 1128.0,878.3 1136.0,873.3 1144.0,872.0 1152.0,873.0 1160.0,874.3 1168.0,878.3 1176.0,879.5 1184.0,861.8 1192.0,866.3 1200.0,866.3 1208.0,865.0 1216.0,858.0 1224.0,866.3 1232.0,862.0 1240.0,866.3 1248.0,864.3 1256.0,866.3 1264.0,860.0 1272.0,857.2 1280.0,855.1 1288.0,863.4 1296.0,874.0 1304.0,875.2 1312.0,876.3 1320.0,879.1 1328.0,880.4 1336.0,880.4 1344.0,880.4 1352.0,876.3 1360.0,872.1 1368.0,872.1 1376.0,877.0 1384.0,860.3 1392.0,860.8 1400.0,857.7 1408.0,860.8 1416.0,865.0 1424.0,854.6 1432.0,851.2 1440.0,840.9 1448.0,839.1 1456.0,839.1" fill="none" stroke="#1e90ff" stroke-width="1"/>
</g>
<text x="-2.2" y="793" font-family="'Liberation Sans',sans-serif" font-size="10.1" fill="#000" text-anchor="start" font-weight="normal" textLength="66.5" lengthAdjust="spacingAndGlyphs" text-rendering="geometricPrecision">RSI(14) 59.1575</text>
<path d="M1369.6,869.6 L1455,835.3" stroke="#ff0000" stroke-width="2.9" fill="none"/>
<path d="M1463.3,831.1 L1455,840 L1453.2,835 L1450.2,830.7 Z" fill="#ff0000"/>
</g>
<text x="1654.3" y="790.9" font-family="'Liberation Sans',sans-serif" font-size="10.1" fill="#000" text-anchor="start" font-weight="normal" textLength="15.600000000000001" lengthAdjust="spacingAndGlyphs" text-rendering="geometricPrecision">100</text>
<text x="1654.3" y="813.9" font-family="'Liberation Sans',sans-serif" font-size="10.1" fill="#000" text-anchor="start" font-weight="normal" textLength="10.4" lengthAdjust="spacingAndGlyphs" text-rendering="geometricPrecision">80</text>
<text x="1654.3" y="855.9" font-family="'Liberation Sans',sans-serif" font-size="10.1" fill="#000" text-anchor="start" font-weight="normal" textLength="10.4" lengthAdjust="spacingAndGlyphs" text-rendering="geometricPrecision">50</text>
<text x="1654.3" y="904.9" font-family="'Liberation Sans',sans-serif" font-size="10.1" fill="#000" text-anchor="start" font-weight="normal" textLength="10.4" lengthAdjust="spacingAndGlyphs" text-rendering="geometricPrecision">15</text>
<text x="1654.3" y="919.9" font-family="'Liberation Sans',sans-serif" font-size="10.1" fill="#000" text-anchor="start" font-weight="normal" textLength="5.2" lengthAdjust="spacingAndGlyphs" text-rendering="geometricPrecision">0</text>
<g shape-rendering="crispEdges">
<rect x="56" y="924" width="1" height="3" fill="#000"/>
<rect x="120" y="924" width="1" height="3" fill="#000"/>
<rect x="184" y="924" width="1" height="3" fill="#000"/>
<rect x="248" y="924" width="1" height="3" fill="#000"/>
<rect x="312" y="924" width="1" height="3" fill="#000"/>
<rect x="376" y="924" width="1" height="3" fill="#000"/>
<rect x="440" y="924" width="1" height="3" fill="#000"/>
<rect x="504" y="924" width="1" height="3" fill="#000"/>
<rect x="568" y="924" width="1" height="3" fill="#000"/>
<rect x="632" y="924" width="1" height="3" fill="#000"/>
<rect x="696" y="924" width="1" height="3" fill="#000"/>
<rect x="760" y="924" width="1" height="3" fill="#000"/>
<rect x="824" y="924" width="1" height="3" fill="#000"/>
<rect x="888" y="924" width="1" height="3" fill="#000"/>
<rect x="952" y="924" width="1" height="3" fill="#000"/>
<rect x="1016" y="924" width="1" height="3" fill="#000"/>
<rect x="1080" y="924" width="1" height="3" fill="#000"/>
<rect x="1144" y="924" width="1" height="3" fill="#000"/>
<rect x="1208" y="924" width="1" height="3" fill="#000"/>
<rect x="1272" y="924" width="1" height="3" fill="#000"/>
<rect x="1336" y="924" width="1" height="3" fill="#000"/>
<rect x="1400" y="924" width="1" height="3" fill="#000"/>
</g>
<text x="-8.5" y="936.4" font-family="'Liberation Sans',sans-serif" font-size="10.1" fill="#000" text-anchor="start" font-weight="normal" textLength="45.3" lengthAdjust="spacingAndGlyphs" text-rendering="geometricPrecision">4 Apr 2022</text>
<text x="55.5" y="936.4" font-family="'Liberation Sans',sans-serif" font-size="10.1" fill="#000" text-anchor="start" font-weight="normal" textLength="48.8" lengthAdjust="spacingAndGlyphs" text-rendering="geometricPrecision">5 Apr 20:00</text>
<text x="119.5" y="936.4" font-family="'Liberation Sans',sans-serif" font-size="10.1" fill="#000" text-anchor="start" font-weight="normal" textLength="48.8" lengthAdjust="spacingAndGlyphs" text-rendering="geometricPrecision">7 Apr 04:00</text>
<text x="183.5" y="936.4" font-family="'Liberation Sans',sans-serif" font-size="10.1" fill="#000" text-anchor="start" font-weight="normal" textLength="48.8" lengthAdjust="spacingAndGlyphs" text-rendering="geometricPrecision">8 Apr 12:00</text>
<text x="247.5" y="936.4" font-family="'Liberation Sans',sans-serif" font-size="10.1" fill="#000" text-anchor="start" font-weight="normal" textLength="53.8" lengthAdjust="spacingAndGlyphs" text-rendering="geometricPrecision">11 Apr 20:00</text>
<text x="311.5" y="936.4" font-family="'Liberation Sans',sans-serif" font-size="10.1" fill="#000" text-anchor="start" font-weight="normal" textLength="53.8" lengthAdjust="spacingAndGlyphs" text-rendering="geometricPrecision">13 Apr 04:00</text>
<text x="375.5" y="936.4" font-family="'Liberation Sans',sans-serif" font-size="10.1" fill="#000" text-anchor="start" font-weight="normal" textLength="53.8" lengthAdjust="spacingAndGlyphs" text-rendering="geometricPrecision">14 Apr 12:00</text>
<text x="439.5" y="936.4" font-family="'Liberation Sans',sans-serif" font-size="10.1" fill="#000" text-anchor="start" font-weight="normal" textLength="53.8" lengthAdjust="spacingAndGlyphs" text-rendering="geometricPrecision">17 Apr 23:00</text>
<text x="503.5" y="936.4" font-family="'Liberation Sans',sans-serif" font-size="10.1" fill="#000" text-anchor="start" font-weight="normal" textLength="53.8" lengthAdjust="spacingAndGlyphs" text-rendering="geometricPrecision">19 Apr 04:00</text>
<text x="567.5" y="936.4" font-family="'Liberation Sans',sans-serif" font-size="10.1" fill="#000" text-anchor="start" font-weight="normal" textLength="53.8" lengthAdjust="spacingAndGlyphs" text-rendering="geometricPrecision">20 Apr 12:00</text>
<text x="631.5" y="936.4" font-family="'Liberation Sans',sans-serif" font-size="10.1" fill="#000" text-anchor="start" font-weight="normal" textLength="53.8" lengthAdjust="spacingAndGlyphs" text-rendering="geometricPrecision">21 Apr 20:00</text>
<text x="695.5" y="936.4" font-family="'Liberation Sans',sans-serif" font-size="10.1" fill="#000" text-anchor="start" font-weight="normal" textLength="53.8" lengthAdjust="spacingAndGlyphs" text-rendering="geometricPrecision">25 Apr 04:00</text>
<text x="759.5" y="936.4" font-family="'Liberation Sans',sans-serif" font-size="10.1" fill="#000" text-anchor="start" font-weight="normal" textLength="53.8" lengthAdjust="spacingAndGlyphs" text-rendering="geometricPrecision">26 Apr 12:00</text>
<text x="823.5" y="936.4" font-family="'Liberation Sans',sans-serif" font-size="10.1" fill="#000" text-anchor="start" font-weight="normal" textLength="53.8" lengthAdjust="spacingAndGlyphs" text-rendering="geometricPrecision">27 Apr 20:00</text>
<text x="887.5" y="936.4" font-family="'Liberation Sans',sans-serif" font-size="10.1" fill="#000" text-anchor="start" font-weight="normal" textLength="53.8" lengthAdjust="spacingAndGlyphs" text-rendering="geometricPrecision">29 Apr 04:00</text>
<text x="951.5" y="936.4" font-family="'Liberation Sans',sans-serif" font-size="10.1" fill="#000" text-anchor="start" font-weight="normal" textLength="53.3" lengthAdjust="spacingAndGlyphs" text-rendering="geometricPrecision">2 May 12:00</text>
<text x="1015.5" y="936.4" font-family="'Liberation Sans',sans-serif" font-size="10.1" fill="#000" text-anchor="start" font-weight="normal" textLength="53.3" lengthAdjust="spacingAndGlyphs" text-rendering="geometricPrecision">3 May 20:00</text>
<text x="1079.5" y="936.4" font-family="'Liberation Sans',sans-serif" font-size="10.1" fill="#000" text-anchor="start" font-weight="normal" textLength="53.3" lengthAdjust="spacingAndGlyphs" text-rendering="geometricPrecision">5 May 04:00</text>
<text x="1143.5" y="936.4" font-family="'Liberation Sans',sans-serif" font-size="10.1" fill="#000" text-anchor="start" font-weight="normal" textLength="53.3" lengthAdjust="spacingAndGlyphs" text-rendering="geometricPrecision">6 May 12:00</text>
<text x="1207.5" y="936.4" font-family="'Liberation Sans',sans-serif" font-size="10.1" fill="#000" text-anchor="start" font-weight="normal" textLength="53.3" lengthAdjust="spacingAndGlyphs" text-rendering="geometricPrecision">9 May 20:00</text>
<text x="1271.5" y="936.4" font-family="'Liberation Sans',sans-serif" font-size="10.1" fill="#000" text-anchor="start" font-weight="normal" textLength="58.3" lengthAdjust="spacingAndGlyphs" text-rendering="geometricPrecision">11 May 04:00</text>
<text x="1335.5" y="936.4" font-family="'Liberation Sans',sans-serif" font-size="10.1" fill="#000" text-anchor="start" font-weight="normal" textLength="58.3" lengthAdjust="spacingAndGlyphs" text-rendering="geometricPrecision">12 May 12:00</text>
<text x="1399.5" y="936.4" font-family="'Liberation Sans',sans-serif" font-size="10.1" fill="#000" text-anchor="start" font-weight="normal" textLength="58.3" lengthAdjust="spacingAndGlyphs" text-rendering="geometricPrecision">15 May 23:00</text>
</svg>
</body></html>
